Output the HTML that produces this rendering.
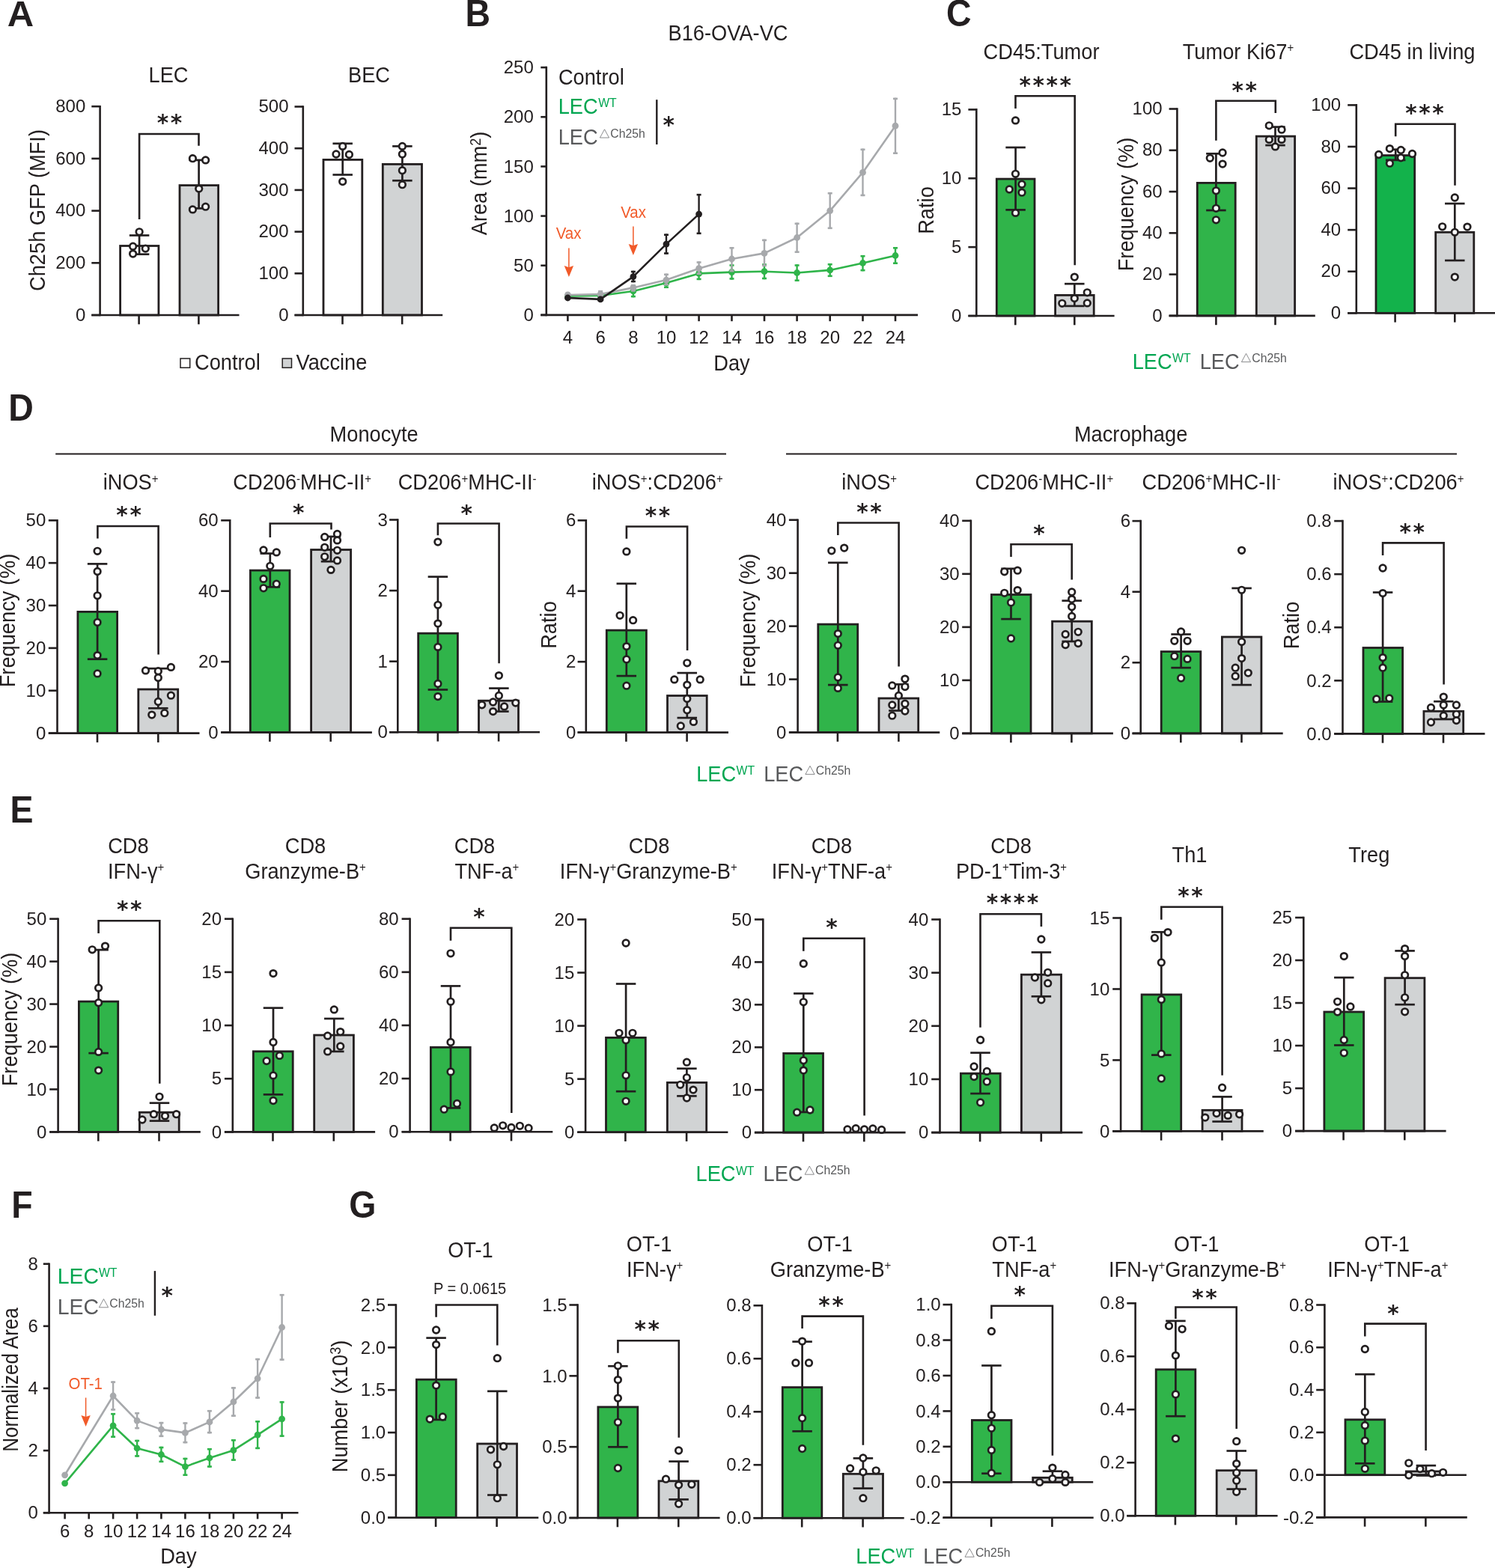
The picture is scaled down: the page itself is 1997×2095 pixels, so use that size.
<!DOCTYPE html>
<html lang="en"><head><meta charset="utf-8"><title>Figure</title>
<style>html,body{margin:0;padding:0;background:#fff}svg{display:block}</style></head>
<body>
<svg width="1997" height="2095" viewBox="0 0 1997 2095" font-family='"Liberation Sans", Arial, Helvetica, sans-serif'>
<text x="9.8" y="35" font-size="49" text-anchor="start" fill="#231f20" font-weight="bold">A</text>
<rect x="160.6" y="328.5" width="51.3" height="92.5" fill="#fff" stroke="#231f20" stroke-width="2.8"/>
<rect x="240" y="247.6" width="51.6" height="173.4" fill="#d1d3d4" stroke="#231f20" stroke-width="2.8"/>
<line x1="133.6" y1="140.9" x2="133.6" y2="422.3" stroke="#231f20" stroke-width="2.6"/>
<line x1="122.3" y1="421" x2="133.6" y2="421" stroke="#231f20" stroke-width="2.6"/>
<text x="114.3" y="428.69" font-size="24" text-anchor="end" fill="#231f20">0</text>
<line x1="122.3" y1="351.3" x2="133.6" y2="351.3" stroke="#231f20" stroke-width="2.6"/>
<text x="114.3" y="358.99" font-size="24" text-anchor="end" fill="#231f20">200</text>
<line x1="122.3" y1="281.6" x2="133.6" y2="281.6" stroke="#231f20" stroke-width="2.6"/>
<text x="114.3" y="289.29" font-size="24" text-anchor="end" fill="#231f20">400</text>
<line x1="122.3" y1="211.9" x2="133.6" y2="211.9" stroke="#231f20" stroke-width="2.6"/>
<text x="114.3" y="219.59" font-size="24" text-anchor="end" fill="#231f20">600</text>
<line x1="122.3" y1="142.2" x2="133.6" y2="142.2" stroke="#231f20" stroke-width="2.6"/>
<text x="114.3" y="149.89" font-size="24" text-anchor="end" fill="#231f20">800</text>
<line x1="122.3" y1="421" x2="319.5" y2="421" stroke="#231f20" stroke-width="2.6"/>
<line x1="185.6" y1="421" x2="185.6" y2="433.3" stroke="#231f20" stroke-width="2.6"/>
<line x1="265.4" y1="421" x2="265.4" y2="433.3" stroke="#231f20" stroke-width="2.6"/>
<line x1="186.1" y1="314.5" x2="186.1" y2="339.7" stroke="#231f20" stroke-width="2.7"/>
<line x1="172.85" y1="314.5" x2="199.35" y2="314.5" stroke="#231f20" stroke-width="2.7"/>
<line x1="172.85" y1="339.7" x2="199.35" y2="339.7" stroke="#231f20" stroke-width="2.7"/>
<line x1="265.6" y1="213.9" x2="265.6" y2="278.4" stroke="#231f20" stroke-width="2.7"/>
<line x1="252.35" y1="213.9" x2="278.85" y2="213.9" stroke="#231f20" stroke-width="2.7"/>
<line x1="252.35" y1="278.4" x2="278.85" y2="278.4" stroke="#231f20" stroke-width="2.7"/>
<circle cx="186.1" cy="309.8" r="4.3" fill="#fff" stroke="#231f20" stroke-width="2.7"/>
<circle cx="177.6" cy="329.2" r="4.3" fill="#fff" stroke="#231f20" stroke-width="2.7"/>
<circle cx="194.3" cy="332.1" r="4.3" fill="#fff" stroke="#231f20" stroke-width="2.7"/>
<circle cx="177.6" cy="339.1" r="4.3" fill="#fff" stroke="#231f20" stroke-width="2.7"/>
<circle cx="257.4" cy="211.7" r="4.3" fill="#fff" stroke="#231f20" stroke-width="2.7"/>
<circle cx="274.6" cy="213.9" r="4.3" fill="#fff" stroke="#231f20" stroke-width="2.7"/>
<circle cx="265.7" cy="252.1" r="4.3" fill="#fff" stroke="#231f20" stroke-width="2.7"/>
<circle cx="257.4" cy="279.9" r="4.3" fill="#fff" stroke="#231f20" stroke-width="2.7"/>
<circle cx="274.6" cy="276.2" r="4.3" fill="#fff" stroke="#231f20" stroke-width="2.7"/>
<path d="M186.1 292.9V179H265.5V194.8" fill="none" stroke="#231f20" stroke-width="2.6" stroke-linejoin="miter"/>
<text x="227.8" y="173.92" font-size="29.5" font-family="'DejaVu Sans', sans-serif" font-weight="bold" text-anchor="middle" letter-spacing="2.6" fill="#231f20">**</text>
<text transform="translate(225 109.7) scale(0.93 1)" font-size="29.3" text-anchor="middle" fill="#231f20">LEC</text>
<text transform="translate(59.5 281) rotate(-90) scale(0.93 1)" font-size="29.3" text-anchor="middle" fill="#231f20">Ch25h GFP (MFI)</text>
<rect x="432" y="213.4" width="51.8" height="207.6" fill="#fff" stroke="#231f20" stroke-width="2.8"/>
<rect x="511.3" y="219.4" width="52.2" height="201.6" fill="#d1d3d4" stroke="#231f20" stroke-width="2.8"/>
<line x1="404.8" y1="141.2" x2="404.8" y2="422.3" stroke="#231f20" stroke-width="2.6"/>
<line x1="393.5" y1="421" x2="404.8" y2="421" stroke="#231f20" stroke-width="2.6"/>
<text x="385.5" y="428.69" font-size="24" text-anchor="end" fill="#231f20">0</text>
<line x1="393.5" y1="365.3" x2="404.8" y2="365.3" stroke="#231f20" stroke-width="2.6"/>
<text x="385.5" y="372.99" font-size="24" text-anchor="end" fill="#231f20">100</text>
<line x1="393.5" y1="309.6" x2="404.8" y2="309.6" stroke="#231f20" stroke-width="2.6"/>
<text x="385.5" y="317.29" font-size="24" text-anchor="end" fill="#231f20">200</text>
<line x1="393.5" y1="253.9" x2="404.8" y2="253.9" stroke="#231f20" stroke-width="2.6"/>
<text x="385.5" y="261.59" font-size="24" text-anchor="end" fill="#231f20">300</text>
<line x1="393.5" y1="198.2" x2="404.8" y2="198.2" stroke="#231f20" stroke-width="2.6"/>
<text x="385.5" y="205.89" font-size="24" text-anchor="end" fill="#231f20">400</text>
<line x1="393.5" y1="142.5" x2="404.8" y2="142.5" stroke="#231f20" stroke-width="2.6"/>
<text x="385.5" y="150.19" font-size="24" text-anchor="end" fill="#231f20">500</text>
<line x1="393.5" y1="421" x2="591.2" y2="421" stroke="#231f20" stroke-width="2.6"/>
<line x1="457.5" y1="421" x2="457.5" y2="433.3" stroke="#231f20" stroke-width="2.6"/>
<line x1="537.2" y1="421" x2="537.2" y2="433.3" stroke="#231f20" stroke-width="2.6"/>
<line x1="457.7" y1="191.8" x2="457.7" y2="233.5" stroke="#231f20" stroke-width="2.7"/>
<line x1="444.45" y1="191.8" x2="470.95" y2="191.8" stroke="#231f20" stroke-width="2.7"/>
<line x1="444.45" y1="233.5" x2="470.95" y2="233.5" stroke="#231f20" stroke-width="2.7"/>
<line x1="537.4" y1="195.4" x2="537.4" y2="241.3" stroke="#231f20" stroke-width="2.7"/>
<line x1="524.15" y1="195.4" x2="550.65" y2="195.4" stroke="#231f20" stroke-width="2.7"/>
<line x1="524.15" y1="241.3" x2="550.65" y2="241.3" stroke="#231f20" stroke-width="2.7"/>
<circle cx="457.7" cy="195.4" r="4.3" fill="#fff" stroke="#231f20" stroke-width="2.7"/>
<circle cx="449" cy="206" r="4.3" fill="#fff" stroke="#231f20" stroke-width="2.7"/>
<circle cx="466.4" cy="206.5" r="4.3" fill="#fff" stroke="#231f20" stroke-width="2.7"/>
<circle cx="457.7" cy="242.6" r="4.3" fill="#fff" stroke="#231f20" stroke-width="2.7"/>
<circle cx="537.4" cy="195.4" r="4.3" fill="#fff" stroke="#231f20" stroke-width="2.7"/>
<circle cx="537.4" cy="206" r="4.3" fill="#fff" stroke="#231f20" stroke-width="2.7"/>
<circle cx="537.4" cy="227.7" r="4.3" fill="#fff" stroke="#231f20" stroke-width="2.7"/>
<circle cx="537.4" cy="246.7" r="4.3" fill="#fff" stroke="#231f20" stroke-width="2.7"/>
<text transform="translate(493 109.7) scale(0.93 1)" font-size="29.3" text-anchor="middle" fill="#231f20">BEC</text>
<rect x="241" y="479" width="12.7" height="12.3" fill="#fff" stroke="#231f20" stroke-width="1.5"/>
<text transform="translate(260 493.5) scale(0.93 1)" font-size="29.3" text-anchor="start" fill="#231f20">Control</text>
<rect x="377.2" y="479" width="12.3" height="12.3" fill="#d1d3d4" stroke="#231f20" stroke-width="1.5"/>
<text transform="translate(395.5 493.5) scale(0.93 1)" font-size="29.3" text-anchor="start" fill="#231f20">Vaccine</text>
<text transform="translate(621.5 35.2) scale(0.93 1)" font-size="50" text-anchor="start" fill="#231f20" font-weight="bold">B</text>
<text transform="translate(972.5 54.4) scale(0.93 1)" font-size="29.3" text-anchor="middle" fill="#231f20">B16-OVA-VC</text>
<line x1="758.4" y1="393" x2="758.4" y2="398" stroke="#2fb44a" stroke-width="2.4"/>
<line x1="755.4" y1="394.2" x2="761.4" y2="394.2" stroke="#2fb44a" stroke-width="2.6"/>
<line x1="755.4" y1="396.8" x2="761.4" y2="396.8" stroke="#2fb44a" stroke-width="2.6"/>
<line x1="802.1" y1="392" x2="802.1" y2="398" stroke="#2fb44a" stroke-width="2.4"/>
<line x1="799.1" y1="393.2" x2="805.1" y2="393.2" stroke="#2fb44a" stroke-width="2.6"/>
<line x1="799.1" y1="396.8" x2="805.1" y2="396.8" stroke="#2fb44a" stroke-width="2.6"/>
<line x1="845.9" y1="382.3" x2="845.9" y2="397.3" stroke="#2fb44a" stroke-width="2.4"/>
<line x1="842.9" y1="383.5" x2="848.9" y2="383.5" stroke="#2fb44a" stroke-width="2.6"/>
<line x1="842.9" y1="396.1" x2="848.9" y2="396.1" stroke="#2fb44a" stroke-width="2.6"/>
<line x1="890" y1="371.4" x2="890" y2="385" stroke="#2fb44a" stroke-width="2.4"/>
<line x1="887" y1="372.6" x2="893" y2="372.6" stroke="#2fb44a" stroke-width="2.6"/>
<line x1="887" y1="383.8" x2="893" y2="383.8" stroke="#2fb44a" stroke-width="2.6"/>
<line x1="933.6" y1="357.8" x2="933.6" y2="374.1" stroke="#2fb44a" stroke-width="2.4"/>
<line x1="930.6" y1="359" x2="936.6" y2="359" stroke="#2fb44a" stroke-width="2.6"/>
<line x1="930.6" y1="372.9" x2="936.6" y2="372.9" stroke="#2fb44a" stroke-width="2.6"/>
<line x1="977.5" y1="353.3" x2="977.5" y2="373.6" stroke="#2fb44a" stroke-width="2.4"/>
<line x1="974.5" y1="354.5" x2="980.5" y2="354.5" stroke="#2fb44a" stroke-width="2.6"/>
<line x1="974.5" y1="372.4" x2="980.5" y2="372.4" stroke="#2fb44a" stroke-width="2.6"/>
<line x1="1021" y1="352.4" x2="1021" y2="373.2" stroke="#2fb44a" stroke-width="2.4"/>
<line x1="1018" y1="353.6" x2="1024" y2="353.6" stroke="#2fb44a" stroke-width="2.6"/>
<line x1="1018" y1="372" x2="1024" y2="372" stroke="#2fb44a" stroke-width="2.6"/>
<line x1="1064.6" y1="353.3" x2="1064.6" y2="375.9" stroke="#2fb44a" stroke-width="2.4"/>
<line x1="1061.6" y1="354.5" x2="1067.6" y2="354.5" stroke="#2fb44a" stroke-width="2.6"/>
<line x1="1061.6" y1="374.7" x2="1067.6" y2="374.7" stroke="#2fb44a" stroke-width="2.6"/>
<line x1="1108.7" y1="352" x2="1108.7" y2="370" stroke="#2fb44a" stroke-width="2.4"/>
<line x1="1105.7" y1="353.2" x2="1111.7" y2="353.2" stroke="#2fb44a" stroke-width="2.6"/>
<line x1="1105.7" y1="368.8" x2="1111.7" y2="368.8" stroke="#2fb44a" stroke-width="2.6"/>
<line x1="1152.5" y1="341" x2="1152.5" y2="362.3" stroke="#2fb44a" stroke-width="2.4"/>
<line x1="1149.5" y1="342.2" x2="1155.5" y2="342.2" stroke="#2fb44a" stroke-width="2.6"/>
<line x1="1149.5" y1="361.1" x2="1155.5" y2="361.1" stroke="#2fb44a" stroke-width="2.6"/>
<line x1="1196" y1="330.1" x2="1196" y2="352.9" stroke="#2fb44a" stroke-width="2.4"/>
<line x1="1193" y1="331.3" x2="1199" y2="331.3" stroke="#2fb44a" stroke-width="2.6"/>
<line x1="1193" y1="351.7" x2="1199" y2="351.7" stroke="#2fb44a" stroke-width="2.6"/>
<path d="M758.4 395.5L802.1 395L845.9 389L890 378.1L933.6 365.4L977.5 363.6L1021 362.7L1064.6 364.5L1108.7 360.9L1152.5 351.5L1196 341.5" fill="none" stroke="#2fb44a" stroke-width="2.6" stroke-linejoin="round"/>
<circle cx="758.4" cy="395.5" r="4.4" fill="#2fb44a"/>
<circle cx="802.1" cy="395" r="4.4" fill="#2fb44a"/>
<circle cx="845.9" cy="389" r="4.4" fill="#2fb44a"/>
<circle cx="890" cy="378.1" r="4.4" fill="#2fb44a"/>
<circle cx="933.6" cy="365.4" r="4.4" fill="#2fb44a"/>
<circle cx="977.5" cy="363.6" r="4.4" fill="#2fb44a"/>
<circle cx="1021" cy="362.7" r="4.4" fill="#2fb44a"/>
<circle cx="1064.6" cy="364.5" r="4.4" fill="#2fb44a"/>
<circle cx="1108.7" cy="360.9" r="4.4" fill="#2fb44a"/>
<circle cx="1152.5" cy="351.5" r="4.4" fill="#2fb44a"/>
<circle cx="1196" cy="341.5" r="4.4" fill="#2fb44a"/>
<line x1="758.4" y1="390.5" x2="758.4" y2="397.5" stroke="#a7a9ac" stroke-width="2.4"/>
<line x1="755.4" y1="391.7" x2="761.4" y2="391.7" stroke="#a7a9ac" stroke-width="2.6"/>
<line x1="755.4" y1="396.3" x2="761.4" y2="396.3" stroke="#a7a9ac" stroke-width="2.6"/>
<line x1="802.1" y1="388" x2="802.1" y2="397.5" stroke="#a7a9ac" stroke-width="2.4"/>
<line x1="799.1" y1="389.2" x2="805.1" y2="389.2" stroke="#a7a9ac" stroke-width="2.6"/>
<line x1="799.1" y1="396.3" x2="805.1" y2="396.3" stroke="#a7a9ac" stroke-width="2.6"/>
<line x1="845.9" y1="380" x2="845.9" y2="389.5" stroke="#a7a9ac" stroke-width="2.4"/>
<line x1="842.9" y1="381.2" x2="848.9" y2="381.2" stroke="#a7a9ac" stroke-width="2.6"/>
<line x1="842.9" y1="388.3" x2="848.9" y2="388.3" stroke="#a7a9ac" stroke-width="2.6"/>
<line x1="890" y1="365.6" x2="890" y2="381.4" stroke="#a7a9ac" stroke-width="2.4"/>
<line x1="887" y1="366.8" x2="893" y2="366.8" stroke="#a7a9ac" stroke-width="2.6"/>
<line x1="887" y1="380.2" x2="893" y2="380.2" stroke="#a7a9ac" stroke-width="2.6"/>
<line x1="933.6" y1="349.3" x2="933.6" y2="366.9" stroke="#a7a9ac" stroke-width="2.4"/>
<line x1="930.6" y1="350.5" x2="936.6" y2="350.5" stroke="#a7a9ac" stroke-width="2.6"/>
<line x1="930.6" y1="365.7" x2="936.6" y2="365.7" stroke="#a7a9ac" stroke-width="2.6"/>
<line x1="977.5" y1="330.1" x2="977.5" y2="363.2" stroke="#a7a9ac" stroke-width="2.4"/>
<line x1="974.5" y1="331.3" x2="980.5" y2="331.3" stroke="#a7a9ac" stroke-width="2.6"/>
<line x1="974.5" y1="362" x2="980.5" y2="362" stroke="#a7a9ac" stroke-width="2.6"/>
<line x1="1021" y1="319.7" x2="1021" y2="356" stroke="#a7a9ac" stroke-width="2.4"/>
<line x1="1018" y1="320.9" x2="1024" y2="320.9" stroke="#a7a9ac" stroke-width="2.6"/>
<line x1="1018" y1="354.8" x2="1024" y2="354.8" stroke="#a7a9ac" stroke-width="2.6"/>
<line x1="1064.6" y1="297.6" x2="1064.6" y2="337.9" stroke="#a7a9ac" stroke-width="2.4"/>
<line x1="1061.6" y1="298.8" x2="1067.6" y2="298.8" stroke="#a7a9ac" stroke-width="2.6"/>
<line x1="1061.6" y1="336.7" x2="1067.6" y2="336.7" stroke="#a7a9ac" stroke-width="2.6"/>
<line x1="1108.7" y1="257" x2="1108.7" y2="306" stroke="#a7a9ac" stroke-width="2.4"/>
<line x1="1105.7" y1="258.2" x2="1111.7" y2="258.2" stroke="#a7a9ac" stroke-width="2.6"/>
<line x1="1105.7" y1="304.8" x2="1111.7" y2="304.8" stroke="#a7a9ac" stroke-width="2.6"/>
<line x1="1152.5" y1="198.6" x2="1152.5" y2="262.1" stroke="#a7a9ac" stroke-width="2.4"/>
<line x1="1149.5" y1="199.8" x2="1155.5" y2="199.8" stroke="#a7a9ac" stroke-width="2.6"/>
<line x1="1149.5" y1="260.9" x2="1155.5" y2="260.9" stroke="#a7a9ac" stroke-width="2.6"/>
<line x1="1196" y1="130.7" x2="1196" y2="205.9" stroke="#a7a9ac" stroke-width="2.4"/>
<line x1="1193" y1="131.9" x2="1199" y2="131.9" stroke="#a7a9ac" stroke-width="2.6"/>
<line x1="1193" y1="204.7" x2="1199" y2="204.7" stroke="#a7a9ac" stroke-width="2.6"/>
<path d="M758.4 394L802.1 393.1L845.9 384.4L890 374.1L933.6 358.7L977.5 346L1021 338.4L1064.6 317.5L1108.7 281.6L1152.5 230.4L1196 168.2" fill="none" stroke="#a7a9ac" stroke-width="2.6" stroke-linejoin="round"/>
<circle cx="758.4" cy="394" r="4.4" fill="#a7a9ac"/>
<circle cx="802.1" cy="393.1" r="4.4" fill="#a7a9ac"/>
<circle cx="845.9" cy="384.4" r="4.4" fill="#a7a9ac"/>
<circle cx="890" cy="374.1" r="4.4" fill="#a7a9ac"/>
<circle cx="933.6" cy="358.7" r="4.4" fill="#a7a9ac"/>
<circle cx="977.5" cy="346" r="4.4" fill="#a7a9ac"/>
<circle cx="1021" cy="338.4" r="4.4" fill="#a7a9ac"/>
<circle cx="1064.6" cy="317.5" r="4.4" fill="#a7a9ac"/>
<circle cx="1108.7" cy="281.6" r="4.4" fill="#a7a9ac"/>
<circle cx="1152.5" cy="230.4" r="4.4" fill="#a7a9ac"/>
<circle cx="1196" cy="168.2" r="4.4" fill="#a7a9ac"/>
<line x1="845.9" y1="361.8" x2="845.9" y2="377.2" stroke="#231f20" stroke-width="2.4"/>
<line x1="842.9" y1="363" x2="848.9" y2="363" stroke="#231f20" stroke-width="2.6"/>
<line x1="842.9" y1="376" x2="848.9" y2="376" stroke="#231f20" stroke-width="2.6"/>
<line x1="890" y1="312.5" x2="890" y2="339.7" stroke="#231f20" stroke-width="2.4"/>
<line x1="887" y1="313.7" x2="893" y2="313.7" stroke="#231f20" stroke-width="2.6"/>
<line x1="887" y1="338.5" x2="893" y2="338.5" stroke="#231f20" stroke-width="2.6"/>
<line x1="933.6" y1="259" x2="933.6" y2="313" stroke="#231f20" stroke-width="2.4"/>
<line x1="930.6" y1="260.2" x2="936.6" y2="260.2" stroke="#231f20" stroke-width="2.6"/>
<line x1="930.6" y1="311.8" x2="936.6" y2="311.8" stroke="#231f20" stroke-width="2.6"/>
<path d="M758.4 398L802.1 399.9L845.9 369.6L890 326.1L933.6 286.1" fill="none" stroke="#231f20" stroke-width="2.6" stroke-linejoin="round"/>
<circle cx="758.4" cy="398" r="4.4" fill="#231f20"/>
<circle cx="802.1" cy="399.9" r="4.4" fill="#231f20"/>
<circle cx="845.9" cy="369.6" r="4.4" fill="#231f20"/>
<circle cx="890" cy="326.1" r="4.4" fill="#231f20"/>
<circle cx="933.6" cy="286.1" r="4.4" fill="#231f20"/>
<line x1="729.8" y1="88.8" x2="729.8" y2="422.2" stroke="#231f20" stroke-width="2.6"/>
<line x1="722.3" y1="420.9" x2="729.8" y2="420.9" stroke="#231f20" stroke-width="2.6"/>
<text x="712.8" y="429.09" font-size="24" text-anchor="end" fill="#231f20">0</text>
<line x1="722.3" y1="354.74" x2="729.8" y2="354.74" stroke="#231f20" stroke-width="2.6"/>
<text x="712.8" y="362.93" font-size="24" text-anchor="end" fill="#231f20">50</text>
<line x1="722.3" y1="288.58" x2="729.8" y2="288.58" stroke="#231f20" stroke-width="2.6"/>
<text x="712.8" y="296.77" font-size="24" text-anchor="end" fill="#231f20">100</text>
<line x1="722.3" y1="222.42" x2="729.8" y2="222.42" stroke="#231f20" stroke-width="2.6"/>
<text x="712.8" y="230.61" font-size="24" text-anchor="end" fill="#231f20">150</text>
<line x1="722.3" y1="156.26" x2="729.8" y2="156.26" stroke="#231f20" stroke-width="2.6"/>
<text x="712.8" y="164.45" font-size="24" text-anchor="end" fill="#231f20">200</text>
<line x1="722.3" y1="90.1" x2="729.8" y2="90.1" stroke="#231f20" stroke-width="2.6"/>
<text x="712.8" y="98.29" font-size="24" text-anchor="end" fill="#231f20">250</text>
<line x1="722.3" y1="420.9" x2="1226" y2="420.9" stroke="#231f20" stroke-width="2.6"/>
<line x1="758.4" y1="420.9" x2="758.4" y2="429.2" stroke="#231f20" stroke-width="2.6"/>
<text x="758.4" y="458.9" font-size="24" text-anchor="middle" fill="#231f20">4</text>
<line x1="802.1" y1="420.9" x2="802.1" y2="429.2" stroke="#231f20" stroke-width="2.6"/>
<text x="802.1" y="458.9" font-size="24" text-anchor="middle" fill="#231f20">6</text>
<line x1="845.9" y1="420.9" x2="845.9" y2="429.2" stroke="#231f20" stroke-width="2.6"/>
<text x="845.9" y="458.9" font-size="24" text-anchor="middle" fill="#231f20">8</text>
<line x1="890" y1="420.9" x2="890" y2="429.2" stroke="#231f20" stroke-width="2.6"/>
<text x="890" y="458.9" font-size="24" text-anchor="middle" fill="#231f20">10</text>
<line x1="933.6" y1="420.9" x2="933.6" y2="429.2" stroke="#231f20" stroke-width="2.6"/>
<text x="933.6" y="458.9" font-size="24" text-anchor="middle" fill="#231f20">12</text>
<line x1="977.5" y1="420.9" x2="977.5" y2="429.2" stroke="#231f20" stroke-width="2.6"/>
<text x="977.5" y="458.9" font-size="24" text-anchor="middle" fill="#231f20">14</text>
<line x1="1021" y1="420.9" x2="1021" y2="429.2" stroke="#231f20" stroke-width="2.6"/>
<text x="1021" y="458.9" font-size="24" text-anchor="middle" fill="#231f20">16</text>
<line x1="1064.6" y1="420.9" x2="1064.6" y2="429.2" stroke="#231f20" stroke-width="2.6"/>
<text x="1064.6" y="458.9" font-size="24" text-anchor="middle" fill="#231f20">18</text>
<line x1="1108.7" y1="420.9" x2="1108.7" y2="429.2" stroke="#231f20" stroke-width="2.6"/>
<text x="1108.7" y="458.9" font-size="24" text-anchor="middle" fill="#231f20">20</text>
<line x1="1152.5" y1="420.9" x2="1152.5" y2="429.2" stroke="#231f20" stroke-width="2.6"/>
<text x="1152.5" y="458.9" font-size="24" text-anchor="middle" fill="#231f20">22</text>
<line x1="1196" y1="420.9" x2="1196" y2="429.2" stroke="#231f20" stroke-width="2.6"/>
<text x="1196" y="458.9" font-size="24" text-anchor="middle" fill="#231f20">24</text>
<text transform="translate(977.5 494.6) scale(0.93 1)" font-size="29.3" text-anchor="middle" fill="#231f20">Day</text>
<text transform="translate(650.4 245) rotate(-90) scale(0.93 1)" font-size="29.3" text-anchor="middle" fill="#231f20">Area (mm<tspan dy="-8.6" font-size="19.5">2</tspan><tspan dy="8.6">)</tspan></text>
<text transform="translate(745.9 112.7) scale(0.93 1)" font-size="29.3" text-anchor="start" fill="#231f20">Control</text>
<text transform="translate(745.7 151.9) scale(0.93 1)" font-size="29.3" text-anchor="start" fill="#00a651">LEC</text>
<text transform="translate(799.2 143.3) scale(0.93 1)" font-size="17" text-anchor="start" fill="#00a651">WT</text>
<text transform="translate(745.7 193) scale(0.93 1)" font-size="29.3" text-anchor="start" fill="#58595b">LEC</text>
<path d="M801.4 184L807.5 172.8L813.6 184Z" fill="none" stroke="#6d6e71" stroke-width="0.8" stroke-linejoin="miter"/>
<text transform="translate(815.3 184.2) scale(0.93 1)" font-size="17" text-anchor="start" fill="#58595b">Ch25h</text>
<line x1="877.3" y1="133.2" x2="877.3" y2="193" stroke="#231f20" stroke-width="2.4"/>
<text x="894.4" y="176.62" font-size="29.5" font-family="'DejaVu Sans', sans-serif" font-weight="bold" text-anchor="middle" letter-spacing="2.6" fill="#231f20">*</text>
<text transform="translate(759.5 318.8) scale(0.93 1)" font-size="22" text-anchor="middle" fill="#f15a29">Vax</text>
<line x1="759.9" y1="331.5" x2="759.9" y2="359.1" stroke="#f15a29" stroke-width="1.5"/>
<path d="M753.7 355.1L759.9 357.3L766.1 355.1L759.9 370.1Z" fill="#f15a29"/>
<text transform="translate(846 290.7) scale(0.93 1)" font-size="22" text-anchor="middle" fill="#f15a29">Vax</text>
<line x1="845.9" y1="302.5" x2="845.9" y2="330" stroke="#f15a29" stroke-width="1.5"/>
<path d="M839.7 326L845.9 328.2L852.1 326L845.9 341Z" fill="#f15a29"/>
<text transform="translate(1263.9 35) scale(0.93 1)" font-size="50" text-anchor="start" fill="#231f20" font-weight="bold">C</text>
<rect x="1331.3" y="239.1" width="50.7" height="182.9" fill="#30b44a" stroke="#231f20" stroke-width="2.8"/>
<rect x="1409.6" y="394.4" width="51.6" height="27.6" fill="#d1d3d4" stroke="#231f20" stroke-width="2.8"/>
<line x1="1304.3" y1="145.1" x2="1304.3" y2="423.3" stroke="#231f20" stroke-width="2.6"/>
<line x1="1293.4" y1="422" x2="1304.3" y2="422" stroke="#231f20" stroke-width="2.6"/>
<text x="1284.4" y="429.69" font-size="24" text-anchor="end" fill="#231f20">0</text>
<line x1="1293.4" y1="330.13" x2="1304.3" y2="330.13" stroke="#231f20" stroke-width="2.6"/>
<text x="1284.4" y="337.83" font-size="24" text-anchor="end" fill="#231f20">5</text>
<line x1="1293.4" y1="238.27" x2="1304.3" y2="238.27" stroke="#231f20" stroke-width="2.6"/>
<text x="1284.4" y="245.96" font-size="24" text-anchor="end" fill="#231f20">10</text>
<line x1="1293.4" y1="146.4" x2="1304.3" y2="146.4" stroke="#231f20" stroke-width="2.6"/>
<text x="1284.4" y="154.09" font-size="24" text-anchor="end" fill="#231f20">15</text>
<line x1="1293.4" y1="422" x2="1488.6" y2="422" stroke="#231f20" stroke-width="2.6"/>
<line x1="1356.3" y1="422" x2="1356.3" y2="434.3" stroke="#231f20" stroke-width="2.6"/>
<line x1="1435.3" y1="422" x2="1435.3" y2="434.3" stroke="#231f20" stroke-width="2.6"/>
<line x1="1356.6" y1="197" x2="1356.6" y2="280.4" stroke="#231f20" stroke-width="2.7"/>
<line x1="1343.35" y1="197" x2="1369.85" y2="197" stroke="#231f20" stroke-width="2.7"/>
<line x1="1343.35" y1="280.4" x2="1369.85" y2="280.4" stroke="#231f20" stroke-width="2.7"/>
<line x1="1435.3" y1="379.2" x2="1435.3" y2="408.9" stroke="#231f20" stroke-width="2.7"/>
<line x1="1422.05" y1="379.2" x2="1448.55" y2="379.2" stroke="#231f20" stroke-width="2.7"/>
<line x1="1422.05" y1="408.9" x2="1448.55" y2="408.9" stroke="#231f20" stroke-width="2.7"/>
<circle cx="1356.5" cy="160.9" r="4.3" fill="#fff" stroke="#231f20" stroke-width="2.7"/>
<circle cx="1356.5" cy="232.3" r="4.3" fill="#fff" stroke="#231f20" stroke-width="2.7"/>
<circle cx="1365" cy="246.2" r="4.3" fill="#fff" stroke="#231f20" stroke-width="2.7"/>
<circle cx="1348.3" cy="253" r="4.3" fill="#fff" stroke="#231f20" stroke-width="2.7"/>
<circle cx="1365" cy="257.2" r="4.3" fill="#fff" stroke="#231f20" stroke-width="2.7"/>
<circle cx="1356.5" cy="284.4" r="4.3" fill="#fff" stroke="#231f20" stroke-width="2.7"/>
<circle cx="1435.3" cy="370.1" r="4.3" fill="#fff" stroke="#231f20" stroke-width="2.7"/>
<circle cx="1452.3" cy="390.8" r="4.3" fill="#fff" stroke="#231f20" stroke-width="2.7"/>
<circle cx="1435.3" cy="398.6" r="4.3" fill="#fff" stroke="#231f20" stroke-width="2.7"/>
<circle cx="1418.8" cy="405.3" r="4.3" fill="#fff" stroke="#231f20" stroke-width="2.7"/>
<circle cx="1452.3" cy="404.9" r="4.3" fill="#fff" stroke="#231f20" stroke-width="2.7"/>
<path d="M1356.5 145V128.3H1435.7V354.2" fill="none" stroke="#231f20" stroke-width="2.6" stroke-linejoin="miter"/>
<text x="1397.5" y="124.02" font-size="29.5" font-family="'DejaVu Sans', sans-serif" font-weight="bold" text-anchor="middle" letter-spacing="2.6" fill="#231f20">****</text>
<text transform="translate(1391 78.8) scale(0.93 1)" font-size="29.3" text-anchor="middle" fill="#231f20">CD45:Tumor</text>
<text transform="translate(1247.2 281) rotate(-90) scale(0.93 1)" font-size="29.3" text-anchor="middle" fill="#231f20">Ratio</text>
<rect x="1599.3" y="244.4" width="50.9" height="177.5" fill="#30b44a" stroke="#231f20" stroke-width="2.8"/>
<rect x="1678.3" y="182.1" width="51.3" height="239.8" fill="#d1d3d4" stroke="#231f20" stroke-width="2.8"/>
<line x1="1572.4" y1="144.2" x2="1572.4" y2="423.2" stroke="#231f20" stroke-width="2.6"/>
<line x1="1561.6" y1="421.9" x2="1572.4" y2="421.9" stroke="#231f20" stroke-width="2.6"/>
<text x="1552.6" y="429.59" font-size="24" text-anchor="end" fill="#231f20">0</text>
<line x1="1561.6" y1="366.62" x2="1572.4" y2="366.62" stroke="#231f20" stroke-width="2.6"/>
<text x="1552.6" y="374.31" font-size="24" text-anchor="end" fill="#231f20">20</text>
<line x1="1561.6" y1="311.34" x2="1572.4" y2="311.34" stroke="#231f20" stroke-width="2.6"/>
<text x="1552.6" y="319.03" font-size="24" text-anchor="end" fill="#231f20">40</text>
<line x1="1561.6" y1="256.06" x2="1572.4" y2="256.06" stroke="#231f20" stroke-width="2.6"/>
<text x="1552.6" y="263.75" font-size="24" text-anchor="end" fill="#231f20">60</text>
<line x1="1561.6" y1="200.78" x2="1572.4" y2="200.78" stroke="#231f20" stroke-width="2.6"/>
<text x="1552.6" y="208.47" font-size="24" text-anchor="end" fill="#231f20">80</text>
<line x1="1561.6" y1="145.5" x2="1572.4" y2="145.5" stroke="#231f20" stroke-width="2.6"/>
<text x="1552.6" y="153.19" font-size="24" text-anchor="end" fill="#231f20">100</text>
<line x1="1561.6" y1="421.9" x2="1756.8" y2="421.9" stroke="#231f20" stroke-width="2.6"/>
<line x1="1624.4" y1="421.9" x2="1624.4" y2="434.2" stroke="#231f20" stroke-width="2.6"/>
<line x1="1703.5" y1="421.9" x2="1703.5" y2="434.2" stroke="#231f20" stroke-width="2.6"/>
<line x1="1624.4" y1="205.3" x2="1624.4" y2="281" stroke="#231f20" stroke-width="2.7"/>
<line x1="1611.15" y1="205.3" x2="1637.65" y2="205.3" stroke="#231f20" stroke-width="2.7"/>
<line x1="1611.15" y1="281" x2="1637.65" y2="281" stroke="#231f20" stroke-width="2.7"/>
<line x1="1703.5" y1="169.6" x2="1703.5" y2="194.1" stroke="#231f20" stroke-width="2.7"/>
<line x1="1690.25" y1="169.6" x2="1716.75" y2="169.6" stroke="#231f20" stroke-width="2.7"/>
<line x1="1690.25" y1="194.1" x2="1716.75" y2="194.1" stroke="#231f20" stroke-width="2.7"/>
<circle cx="1633.1" cy="204" r="4.3" fill="#fff" stroke="#231f20" stroke-width="2.7"/>
<circle cx="1616.3" cy="211.3" r="4.3" fill="#fff" stroke="#231f20" stroke-width="2.7"/>
<circle cx="1633.1" cy="219.1" r="4.3" fill="#fff" stroke="#231f20" stroke-width="2.7"/>
<circle cx="1624.4" cy="254.8" r="4.3" fill="#fff" stroke="#231f20" stroke-width="2.7"/>
<circle cx="1624.4" cy="278.3" r="4.3" fill="#fff" stroke="#231f20" stroke-width="2.7"/>
<circle cx="1624.4" cy="293.8" r="4.3" fill="#fff" stroke="#231f20" stroke-width="2.7"/>
<circle cx="1695.3" cy="167.8" r="4.3" fill="#fff" stroke="#231f20" stroke-width="2.7"/>
<circle cx="1712" cy="173.2" r="4.3" fill="#fff" stroke="#231f20" stroke-width="2.7"/>
<circle cx="1695.3" cy="186.4" r="4.3" fill="#fff" stroke="#231f20" stroke-width="2.7"/>
<circle cx="1712" cy="186.4" r="4.3" fill="#fff" stroke="#231f20" stroke-width="2.7"/>
<circle cx="1703.5" cy="195.9" r="4.3" fill="#fff" stroke="#231f20" stroke-width="2.7"/>
<path d="M1624.4 187.7V134.8H1703.8V150.9" fill="none" stroke="#231f20" stroke-width="2.6" stroke-linejoin="miter"/>
<text x="1663.5" y="131.42" font-size="29.5" font-family="'DejaVu Sans', sans-serif" font-weight="bold" text-anchor="middle" letter-spacing="2.6" fill="#231f20">**</text>
<text transform="translate(1654 78.6) scale(0.93 1)" font-size="29.3" text-anchor="middle" fill="#231f20">Tumor Ki67<tspan dy="-9.67" font-size="16.12">+</tspan></text>
<text transform="translate(1513.5 273) rotate(-90) scale(0.93 1)" font-size="29.3" text-anchor="middle" fill="#231f20">Frequency (%)</text>
<rect x="1838" y="207.6" width="51.7" height="210.7" fill="#13b24b" stroke="#231f20" stroke-width="2.8"/>
<rect x="1917.7" y="310.3" width="51.1" height="108" fill="#d1d3d4" stroke="#231f20" stroke-width="2.8"/>
<line x1="1811.8" y1="139.1" x2="1811.8" y2="419.6" stroke="#231f20" stroke-width="2.6"/>
<line x1="1800.2" y1="418.3" x2="1811.8" y2="418.3" stroke="#231f20" stroke-width="2.6"/>
<text x="1791.2" y="425.99" font-size="24" text-anchor="end" fill="#231f20">0</text>
<line x1="1800.2" y1="362.72" x2="1811.8" y2="362.72" stroke="#231f20" stroke-width="2.6"/>
<text x="1791.2" y="370.41" font-size="24" text-anchor="end" fill="#231f20">20</text>
<line x1="1800.2" y1="307.14" x2="1811.8" y2="307.14" stroke="#231f20" stroke-width="2.6"/>
<text x="1791.2" y="314.83" font-size="24" text-anchor="end" fill="#231f20">40</text>
<line x1="1800.2" y1="251.56" x2="1811.8" y2="251.56" stroke="#231f20" stroke-width="2.6"/>
<text x="1791.2" y="259.25" font-size="24" text-anchor="end" fill="#231f20">60</text>
<line x1="1800.2" y1="195.98" x2="1811.8" y2="195.98" stroke="#231f20" stroke-width="2.6"/>
<text x="1791.2" y="203.67" font-size="24" text-anchor="end" fill="#231f20">80</text>
<line x1="1800.2" y1="140.4" x2="1811.8" y2="140.4" stroke="#231f20" stroke-width="2.6"/>
<text x="1791.2" y="148.09" font-size="24" text-anchor="end" fill="#231f20">100</text>
<line x1="1800.2" y1="418.3" x2="1997" y2="418.3" stroke="#231f20" stroke-width="2.6"/>
<line x1="1863.6" y1="418.3" x2="1863.6" y2="430.6" stroke="#231f20" stroke-width="2.6"/>
<line x1="1943.3" y1="418.3" x2="1943.3" y2="430.6" stroke="#231f20" stroke-width="2.6"/>
<line x1="1864.2" y1="199.7" x2="1864.2" y2="213.9" stroke="#231f20" stroke-width="2.7"/>
<line x1="1850.95" y1="199.7" x2="1877.45" y2="199.7" stroke="#231f20" stroke-width="2.7"/>
<line x1="1850.95" y1="213.9" x2="1877.45" y2="213.9" stroke="#231f20" stroke-width="2.7"/>
<line x1="1943.3" y1="272" x2="1943.3" y2="348" stroke="#231f20" stroke-width="2.7"/>
<line x1="1930.05" y1="272" x2="1956.55" y2="272" stroke="#231f20" stroke-width="2.7"/>
<line x1="1930.05" y1="348" x2="1956.55" y2="348" stroke="#231f20" stroke-width="2.7"/>
<circle cx="1841.7" cy="206.5" r="4.3" fill="#fff" stroke="#231f20" stroke-width="2.7"/>
<circle cx="1856.4" cy="198.6" r="4.3" fill="#fff" stroke="#231f20" stroke-width="2.7"/>
<circle cx="1871.3" cy="200.5" r="4.3" fill="#fff" stroke="#231f20" stroke-width="2.7"/>
<circle cx="1886.5" cy="205.5" r="4.3" fill="#fff" stroke="#231f20" stroke-width="2.7"/>
<circle cx="1871.3" cy="210.8" r="4.3" fill="#fff" stroke="#231f20" stroke-width="2.7"/>
<circle cx="1856.4" cy="218.2" r="4.3" fill="#fff" stroke="#231f20" stroke-width="2.7"/>
<circle cx="1943.3" cy="264" r="4.3" fill="#fff" stroke="#231f20" stroke-width="2.7"/>
<circle cx="1926.7" cy="302.8" r="4.3" fill="#fff" stroke="#231f20" stroke-width="2.7"/>
<circle cx="1960" cy="303.1" r="4.3" fill="#fff" stroke="#231f20" stroke-width="2.7"/>
<circle cx="1943.3" cy="310.3" r="4.3" fill="#fff" stroke="#231f20" stroke-width="2.7"/>
<circle cx="1943.3" cy="370.1" r="4.3" fill="#fff" stroke="#231f20" stroke-width="2.7"/>
<path d="M1864.2 182.3V165.7H1943.5V247.7" fill="none" stroke="#231f20" stroke-width="2.6" stroke-linejoin="miter"/>
<text x="1904.3" y="161.12" font-size="29.5" font-family="'DejaVu Sans', sans-serif" font-weight="bold" text-anchor="middle" letter-spacing="2.6" fill="#231f20">***</text>
<text transform="translate(1886.4 78.9) scale(0.93 1)" font-size="29.3" text-anchor="middle" fill="#231f20">CD45 in living</text>
<text transform="translate(1512.7 492.6) scale(0.93 1)" font-size="29.3" text-anchor="start" fill="#00a651">LEC</text>
<text transform="translate(1566.1 484) scale(0.93 1)" font-size="17" text-anchor="start" fill="#00a651">WT</text>
<text transform="translate(1602.7 492.6) scale(0.93 1)" font-size="29.3" text-anchor="start" fill="#58595b">LEC</text>
<path d="M1658.4 483.6L1664.5 472.4L1670.6 483.6Z" fill="none" stroke="#6d6e71" stroke-width="0.8" stroke-linejoin="miter"/>
<text transform="translate(1672.3 483.8) scale(0.93 1)" font-size="17" text-anchor="start" fill="#58595b">Ch25h</text>
<text transform="translate(11.3 561.9) scale(0.93 1)" font-size="50" text-anchor="start" fill="#231f20" font-weight="bold">D</text>
<text transform="translate(499.6 590) scale(0.93 1)" font-size="29.3" text-anchor="middle" fill="#231f20">Monocyte</text>
<text transform="translate(1510.6 590) scale(0.93 1)" font-size="29.3" text-anchor="middle" fill="#231f20">Macrophage</text>
<line x1="74.2" y1="606.5" x2="970" y2="606.5" stroke="#231f20" stroke-width="2"/>
<line x1="1050" y1="606.5" x2="1946" y2="606.5" stroke="#231f20" stroke-width="2"/>
<rect x="103.9" y="817.4" width="52.7" height="162.2" fill="#30b44a" stroke="#231f20" stroke-width="2.8"/>
<rect x="184.8" y="921" width="52.9" height="58.6" fill="#d1d3d4" stroke="#231f20" stroke-width="2.8"/>
<line x1="76.5" y1="694" x2="76.5" y2="980.9" stroke="#231f20" stroke-width="2.6"/>
<line x1="64.8" y1="979.6" x2="76.5" y2="979.6" stroke="#231f20" stroke-width="2.6"/>
<text x="61.3" y="987.79" font-size="24" text-anchor="end" fill="#231f20">0</text>
<line x1="64.8" y1="922.74" x2="76.5" y2="922.74" stroke="#231f20" stroke-width="2.6"/>
<text x="61.3" y="930.93" font-size="24" text-anchor="end" fill="#231f20">10</text>
<line x1="64.8" y1="865.88" x2="76.5" y2="865.88" stroke="#231f20" stroke-width="2.6"/>
<text x="61.3" y="874.07" font-size="24" text-anchor="end" fill="#231f20">20</text>
<line x1="64.8" y1="809.02" x2="76.5" y2="809.02" stroke="#231f20" stroke-width="2.6"/>
<text x="61.3" y="817.21" font-size="24" text-anchor="end" fill="#231f20">30</text>
<line x1="64.8" y1="752.16" x2="76.5" y2="752.16" stroke="#231f20" stroke-width="2.6"/>
<text x="61.3" y="760.35" font-size="24" text-anchor="end" fill="#231f20">40</text>
<line x1="64.8" y1="695.3" x2="76.5" y2="695.3" stroke="#231f20" stroke-width="2.6"/>
<text x="61.3" y="703.49" font-size="24" text-anchor="end" fill="#231f20">50</text>
<line x1="64.8" y1="979.6" x2="266.5" y2="979.6" stroke="#231f20" stroke-width="2.6"/>
<line x1="130" y1="979.6" x2="130" y2="991.9" stroke="#231f20" stroke-width="2.6"/>
<line x1="211.3" y1="979.6" x2="211.3" y2="991.9" stroke="#231f20" stroke-width="2.6"/>
<line x1="130.1" y1="753.4" x2="130.1" y2="880.7" stroke="#231f20" stroke-width="2.7"/>
<line x1="116.85" y1="753.4" x2="143.35" y2="753.4" stroke="#231f20" stroke-width="2.7"/>
<line x1="116.85" y1="880.7" x2="143.35" y2="880.7" stroke="#231f20" stroke-width="2.7"/>
<line x1="211.3" y1="893.2" x2="211.3" y2="946.3" stroke="#231f20" stroke-width="2.7"/>
<line x1="198.05" y1="893.2" x2="224.55" y2="893.2" stroke="#231f20" stroke-width="2.7"/>
<line x1="198.05" y1="946.3" x2="224.55" y2="946.3" stroke="#231f20" stroke-width="2.7"/>
<circle cx="130.1" cy="736.3" r="4.3" fill="#fff" stroke="#231f20" stroke-width="2.7"/>
<circle cx="130.1" cy="763.5" r="4.3" fill="#fff" stroke="#231f20" stroke-width="2.7"/>
<circle cx="130.1" cy="795.8" r="4.3" fill="#fff" stroke="#231f20" stroke-width="2.7"/>
<circle cx="130.1" cy="831.5" r="4.3" fill="#fff" stroke="#231f20" stroke-width="2.7"/>
<circle cx="130.1" cy="875.6" r="4.3" fill="#fff" stroke="#231f20" stroke-width="2.7"/>
<circle cx="130.1" cy="899.9" r="4.3" fill="#fff" stroke="#231f20" stroke-width="2.7"/>
<circle cx="194.5" cy="895.9" r="4.3" fill="#fff" stroke="#231f20" stroke-width="2.7"/>
<circle cx="228.4" cy="891.4" r="4.3" fill="#fff" stroke="#231f20" stroke-width="2.7"/>
<circle cx="211.3" cy="896.7" r="4.3" fill="#fff" stroke="#231f20" stroke-width="2.7"/>
<circle cx="211.3" cy="905.5" r="4.3" fill="#fff" stroke="#231f20" stroke-width="2.7"/>
<circle cx="228.4" cy="929.2" r="4.3" fill="#fff" stroke="#231f20" stroke-width="2.7"/>
<circle cx="211.3" cy="937.5" r="4.3" fill="#fff" stroke="#231f20" stroke-width="2.7"/>
<circle cx="202.8" cy="955.1" r="4.3" fill="#fff" stroke="#231f20" stroke-width="2.7"/>
<circle cx="219.8" cy="952.7" r="4.3" fill="#fff" stroke="#231f20" stroke-width="2.7"/>
<path d="M130.4 719.5V703H211.6V874.6" fill="none" stroke="#231f20" stroke-width="2.6" stroke-linejoin="miter"/>
<text x="173.4" y="698.22" font-size="29.5" font-family="'DejaVu Sans', sans-serif" font-weight="bold" text-anchor="middle" letter-spacing="2.6" fill="#231f20">**</text>
<text transform="translate(174.6 654.3) scale(0.93 1)" font-size="29.3" text-anchor="middle" fill="#231f20">iNOS<tspan dy="-9.67" font-size="16.12">+</tspan></text>
<text transform="translate(20 829) rotate(-90) scale(0.93 1)" font-size="29.3" text-anchor="middle" fill="#231f20">Frequency (%)</text>
<rect x="334.4" y="762.1" width="52.6" height="216.5" fill="#30b44a" stroke="#231f20" stroke-width="2.8"/>
<rect x="415.6" y="734.5" width="53" height="244.1" fill="#d1d3d4" stroke="#231f20" stroke-width="2.8"/>
<line x1="307.2" y1="694" x2="307.2" y2="979.9" stroke="#231f20" stroke-width="2.6"/>
<line x1="295.2" y1="978.6" x2="307.2" y2="978.6" stroke="#231f20" stroke-width="2.6"/>
<text x="291.7" y="986.79" font-size="24" text-anchor="end" fill="#231f20">0</text>
<line x1="295.2" y1="884.17" x2="307.2" y2="884.17" stroke="#231f20" stroke-width="2.6"/>
<text x="291.7" y="892.36" font-size="24" text-anchor="end" fill="#231f20">20</text>
<line x1="295.2" y1="789.73" x2="307.2" y2="789.73" stroke="#231f20" stroke-width="2.6"/>
<text x="291.7" y="797.93" font-size="24" text-anchor="end" fill="#231f20">40</text>
<line x1="295.2" y1="695.3" x2="307.2" y2="695.3" stroke="#231f20" stroke-width="2.6"/>
<text x="291.7" y="703.49" font-size="24" text-anchor="end" fill="#231f20">60</text>
<line x1="295.2" y1="978.6" x2="496.9" y2="978.6" stroke="#231f20" stroke-width="2.6"/>
<line x1="360.4" y1="978.6" x2="360.4" y2="990.9" stroke="#231f20" stroke-width="2.6"/>
<line x1="441.7" y1="978.6" x2="441.7" y2="990.9" stroke="#231f20" stroke-width="2.6"/>
<line x1="360.8" y1="739.5" x2="360.8" y2="784.3" stroke="#231f20" stroke-width="2.7"/>
<line x1="347.55" y1="739.5" x2="374.05" y2="739.5" stroke="#231f20" stroke-width="2.7"/>
<line x1="347.55" y1="784.3" x2="374.05" y2="784.3" stroke="#231f20" stroke-width="2.7"/>
<line x1="442" y1="716.9" x2="442" y2="750.2" stroke="#231f20" stroke-width="2.7"/>
<line x1="428.75" y1="716.9" x2="455.25" y2="716.9" stroke="#231f20" stroke-width="2.7"/>
<line x1="428.75" y1="750.2" x2="455.25" y2="750.2" stroke="#231f20" stroke-width="2.7"/>
<circle cx="352" cy="735" r="4.3" fill="#fff" stroke="#231f20" stroke-width="2.7"/>
<circle cx="369.3" cy="737.9" r="4.3" fill="#fff" stroke="#231f20" stroke-width="2.7"/>
<circle cx="360.8" cy="756.3" r="4.3" fill="#fff" stroke="#231f20" stroke-width="2.7"/>
<circle cx="352" cy="773.4" r="4.3" fill="#fff" stroke="#231f20" stroke-width="2.7"/>
<circle cx="369.3" cy="780.2" r="4.3" fill="#fff" stroke="#231f20" stroke-width="2.7"/>
<circle cx="352" cy="785.8" r="4.3" fill="#fff" stroke="#231f20" stroke-width="2.7"/>
<circle cx="450.5" cy="713.4" r="4.3" fill="#fff" stroke="#231f20" stroke-width="2.7"/>
<circle cx="433.7" cy="717.4" r="4.3" fill="#fff" stroke="#231f20" stroke-width="2.7"/>
<circle cx="450.5" cy="721.9" r="4.3" fill="#fff" stroke="#231f20" stroke-width="2.7"/>
<circle cx="433.7" cy="731.3" r="4.3" fill="#fff" stroke="#231f20" stroke-width="2.7"/>
<circle cx="450.5" cy="735.3" r="4.3" fill="#fff" stroke="#231f20" stroke-width="2.7"/>
<circle cx="433.7" cy="743.8" r="4.3" fill="#fff" stroke="#231f20" stroke-width="2.7"/>
<circle cx="450.5" cy="748.9" r="4.3" fill="#fff" stroke="#231f20" stroke-width="2.7"/>
<circle cx="442" cy="761.4" r="4.3" fill="#fff" stroke="#231f20" stroke-width="2.7"/>
<path d="M360.8 717.9V699.5H442.5V707.5" fill="none" stroke="#231f20" stroke-width="2.6" stroke-linejoin="miter"/>
<text x="400.1" y="695.02" font-size="29.5" font-family="'DejaVu Sans', sans-serif" font-weight="bold" text-anchor="middle" letter-spacing="2.6" fill="#231f20">*</text>
<text transform="translate(403.7 654.3) scale(0.93 1)" font-size="29.3" text-anchor="middle" fill="#231f20">CD206<tspan dy="-9.67" font-size="16.12">-</tspan><tspan dy="9.67">MHC-II</tspan><tspan dy="-9.67" font-size="16.12">+</tspan></text>
<rect x="558.7" y="846.2" width="52.7" height="132.1" fill="#30b44a" stroke="#231f20" stroke-width="2.8"/>
<rect x="639.5" y="936.2" width="53" height="42.1" fill="#d1d3d4" stroke="#231f20" stroke-width="2.8"/>
<line x1="531.3" y1="693.2" x2="531.3" y2="979.6" stroke="#231f20" stroke-width="2.6"/>
<line x1="520.1" y1="978.3" x2="531.3" y2="978.3" stroke="#231f20" stroke-width="2.6"/>
<text x="517.8" y="986.49" font-size="24" text-anchor="end" fill="#231f20">0</text>
<line x1="520.1" y1="883.7" x2="531.3" y2="883.7" stroke="#231f20" stroke-width="2.6"/>
<text x="517.8" y="891.89" font-size="24" text-anchor="end" fill="#231f20">1</text>
<line x1="520.1" y1="789.1" x2="531.3" y2="789.1" stroke="#231f20" stroke-width="2.6"/>
<text x="517.8" y="797.29" font-size="24" text-anchor="end" fill="#231f20">2</text>
<line x1="520.1" y1="694.5" x2="531.3" y2="694.5" stroke="#231f20" stroke-width="2.6"/>
<text x="517.8" y="702.69" font-size="24" text-anchor="end" fill="#231f20">3</text>
<line x1="520.1" y1="978.3" x2="721" y2="978.3" stroke="#231f20" stroke-width="2.6"/>
<line x1="584.8" y1="978.3" x2="584.8" y2="990.6" stroke="#231f20" stroke-width="2.6"/>
<line x1="666.1" y1="978.3" x2="666.1" y2="990.6" stroke="#231f20" stroke-width="2.6"/>
<line x1="584.9" y1="770.6" x2="584.9" y2="921.5" stroke="#231f20" stroke-width="2.7"/>
<line x1="571.65" y1="770.6" x2="598.15" y2="770.6" stroke="#231f20" stroke-width="2.7"/>
<line x1="571.65" y1="921.5" x2="598.15" y2="921.5" stroke="#231f20" stroke-width="2.7"/>
<line x1="666.4" y1="919.6" x2="666.4" y2="950.6" stroke="#231f20" stroke-width="2.7"/>
<line x1="653.15" y1="919.6" x2="679.65" y2="919.6" stroke="#231f20" stroke-width="2.7"/>
<line x1="653.15" y1="950.6" x2="679.65" y2="950.6" stroke="#231f20" stroke-width="2.7"/>
<circle cx="584.9" cy="724.1" r="4.3" fill="#fff" stroke="#231f20" stroke-width="2.7"/>
<circle cx="584.9" cy="808.3" r="4.3" fill="#fff" stroke="#231f20" stroke-width="2.7"/>
<circle cx="584.9" cy="833.1" r="4.3" fill="#fff" stroke="#231f20" stroke-width="2.7"/>
<circle cx="584.9" cy="864.4" r="4.3" fill="#fff" stroke="#231f20" stroke-width="2.7"/>
<circle cx="584.9" cy="913.5" r="4.3" fill="#fff" stroke="#231f20" stroke-width="2.7"/>
<circle cx="584.9" cy="930.6" r="4.3" fill="#fff" stroke="#231f20" stroke-width="2.7"/>
<circle cx="666.4" cy="902.6" r="4.3" fill="#fff" stroke="#231f20" stroke-width="2.7"/>
<circle cx="666.4" cy="929.5" r="4.3" fill="#fff" stroke="#231f20" stroke-width="2.7"/>
<circle cx="658.6" cy="938" r="4.3" fill="#fff" stroke="#231f20" stroke-width="2.7"/>
<circle cx="688.8" cy="939.1" r="4.3" fill="#fff" stroke="#231f20" stroke-width="2.7"/>
<circle cx="643.7" cy="941.8" r="4.3" fill="#fff" stroke="#231f20" stroke-width="2.7"/>
<circle cx="673.6" cy="943.9" r="4.3" fill="#fff" stroke="#231f20" stroke-width="2.7"/>
<circle cx="658.6" cy="950.6" r="4.3" fill="#fff" stroke="#231f20" stroke-width="2.7"/>
<path d="M584.9 715.3V699.5H666.6V886.3" fill="none" stroke="#231f20" stroke-width="2.6" stroke-linejoin="miter"/>
<text x="624.5" y="696.12" font-size="29.5" font-family="'DejaVu Sans', sans-serif" font-weight="bold" text-anchor="middle" letter-spacing="2.6" fill="#231f20">*</text>
<text transform="translate(624.1 654.3) scale(0.93 1)" font-size="29.3" text-anchor="middle" fill="#231f20">CD206<tspan dy="-9.67" font-size="16.12">+</tspan><tspan dy="9.67">MHC-II</tspan><tspan dy="-9.67" font-size="16.12">-</tspan></text>
<rect x="810.3" y="842.1" width="53.1" height="136.5" fill="#30b44a" stroke="#231f20" stroke-width="2.8"/>
<rect x="891.5" y="929.5" width="52.7" height="49.1" fill="#d1d3d4" stroke="#231f20" stroke-width="2.8"/>
<line x1="782.8" y1="694" x2="782.8" y2="979.9" stroke="#231f20" stroke-width="2.6"/>
<line x1="771.6" y1="978.6" x2="782.8" y2="978.6" stroke="#231f20" stroke-width="2.6"/>
<text x="769.3" y="986.79" font-size="24" text-anchor="end" fill="#231f20">0</text>
<line x1="771.6" y1="884.17" x2="782.8" y2="884.17" stroke="#231f20" stroke-width="2.6"/>
<text x="769.3" y="892.36" font-size="24" text-anchor="end" fill="#231f20">2</text>
<line x1="771.6" y1="789.73" x2="782.8" y2="789.73" stroke="#231f20" stroke-width="2.6"/>
<text x="769.3" y="797.93" font-size="24" text-anchor="end" fill="#231f20">4</text>
<line x1="771.6" y1="695.3" x2="782.8" y2="695.3" stroke="#231f20" stroke-width="2.6"/>
<text x="769.3" y="703.49" font-size="24" text-anchor="end" fill="#231f20">6</text>
<line x1="771.6" y1="978.6" x2="973" y2="978.6" stroke="#231f20" stroke-width="2.6"/>
<line x1="836.4" y1="978.6" x2="836.4" y2="990.9" stroke="#231f20" stroke-width="2.6"/>
<line x1="917.6" y1="978.6" x2="917.6" y2="990.9" stroke="#231f20" stroke-width="2.6"/>
<line x1="836.8" y1="779.8" x2="836.8" y2="903.1" stroke="#231f20" stroke-width="2.7"/>
<line x1="823.55" y1="779.8" x2="850.05" y2="779.8" stroke="#231f20" stroke-width="2.7"/>
<line x1="823.55" y1="903.1" x2="850.05" y2="903.1" stroke="#231f20" stroke-width="2.7"/>
<line x1="917.8" y1="899.1" x2="917.8" y2="959.1" stroke="#231f20" stroke-width="2.7"/>
<line x1="904.55" y1="899.1" x2="931.05" y2="899.1" stroke="#231f20" stroke-width="2.7"/>
<line x1="904.55" y1="959.1" x2="931.05" y2="959.1" stroke="#231f20" stroke-width="2.7"/>
<circle cx="836.9" cy="736.9" r="4.3" fill="#fff" stroke="#231f20" stroke-width="2.7"/>
<circle cx="828.1" cy="822.3" r="4.3" fill="#fff" stroke="#231f20" stroke-width="2.7"/>
<circle cx="845.6" cy="828.7" r="4.3" fill="#fff" stroke="#231f20" stroke-width="2.7"/>
<circle cx="836.9" cy="863.6" r="4.3" fill="#fff" stroke="#231f20" stroke-width="2.7"/>
<circle cx="836.9" cy="881" r="4.3" fill="#fff" stroke="#231f20" stroke-width="2.7"/>
<circle cx="836.9" cy="916.2" r="4.3" fill="#fff" stroke="#231f20" stroke-width="2.7"/>
<circle cx="917.8" cy="885.8" r="4.3" fill="#fff" stroke="#231f20" stroke-width="2.7"/>
<circle cx="900.8" cy="907.9" r="4.3" fill="#fff" stroke="#231f20" stroke-width="2.7"/>
<circle cx="935.2" cy="907.9" r="4.3" fill="#fff" stroke="#231f20" stroke-width="2.7"/>
<circle cx="917.8" cy="915.1" r="4.3" fill="#fff" stroke="#231f20" stroke-width="2.7"/>
<circle cx="917.8" cy="933.5" r="4.3" fill="#fff" stroke="#231f20" stroke-width="2.7"/>
<circle cx="917.8" cy="948.7" r="4.3" fill="#fff" stroke="#231f20" stroke-width="2.7"/>
<circle cx="926.4" cy="964.4" r="4.3" fill="#fff" stroke="#231f20" stroke-width="2.7"/>
<circle cx="909.3" cy="970" r="4.3" fill="#fff" stroke="#231f20" stroke-width="2.7"/>
<path d="M836.9 719.8V703.5H918.1V869" fill="none" stroke="#231f20" stroke-width="2.6" stroke-linejoin="miter"/>
<text x="879.8" y="699.02" font-size="29.5" font-family="'DejaVu Sans', sans-serif" font-weight="bold" text-anchor="middle" letter-spacing="2.6" fill="#231f20">**</text>
<text transform="translate(878.2 654.3) scale(0.93 1)" font-size="29.3" text-anchor="middle" fill="#231f20">iNOS<tspan dy="-9.67" font-size="16.12">+</tspan><tspan dy="9.67">:CD206</tspan><tspan dy="-9.67" font-size="16.12">+</tspan></text>
<text transform="translate(742.6 835) rotate(-90) scale(0.93 1)" font-size="29.3" text-anchor="middle" fill="#231f20">Ratio</text>
<rect x="1092.8" y="834.1" width="52.9" height="144.5" fill="#30b44a" stroke="#231f20" stroke-width="2.8"/>
<rect x="1174" y="933" width="52.7" height="45.6" fill="#d1d3d4" stroke="#231f20" stroke-width="2.8"/>
<line x1="1065.6" y1="693.4" x2="1065.6" y2="979.9" stroke="#231f20" stroke-width="2.6"/>
<line x1="1053.9" y1="978.6" x2="1065.6" y2="978.6" stroke="#231f20" stroke-width="2.6"/>
<text x="1050.4" y="986.79" font-size="24" text-anchor="end" fill="#231f20">0</text>
<line x1="1053.9" y1="907.62" x2="1065.6" y2="907.62" stroke="#231f20" stroke-width="2.6"/>
<text x="1050.4" y="915.82" font-size="24" text-anchor="end" fill="#231f20">10</text>
<line x1="1053.9" y1="836.65" x2="1065.6" y2="836.65" stroke="#231f20" stroke-width="2.6"/>
<text x="1050.4" y="844.84" font-size="24" text-anchor="end" fill="#231f20">20</text>
<line x1="1053.9" y1="765.68" x2="1065.6" y2="765.68" stroke="#231f20" stroke-width="2.6"/>
<text x="1050.4" y="773.87" font-size="24" text-anchor="end" fill="#231f20">30</text>
<line x1="1053.9" y1="694.7" x2="1065.6" y2="694.7" stroke="#231f20" stroke-width="2.6"/>
<text x="1050.4" y="702.89" font-size="24" text-anchor="end" fill="#231f20">40</text>
<line x1="1053.9" y1="978.6" x2="1255.3" y2="978.6" stroke="#231f20" stroke-width="2.6"/>
<line x1="1118.9" y1="978.6" x2="1118.9" y2="990.9" stroke="#231f20" stroke-width="2.6"/>
<line x1="1200.4" y1="978.6" x2="1200.4" y2="990.9" stroke="#231f20" stroke-width="2.6"/>
<line x1="1119.3" y1="751.8" x2="1119.3" y2="915.1" stroke="#231f20" stroke-width="2.7"/>
<line x1="1106.05" y1="751.8" x2="1132.55" y2="751.8" stroke="#231f20" stroke-width="2.7"/>
<line x1="1106.05" y1="915.1" x2="1132.55" y2="915.1" stroke="#231f20" stroke-width="2.7"/>
<line x1="1200.4" y1="914.3" x2="1200.4" y2="949.5" stroke="#231f20" stroke-width="2.7"/>
<line x1="1187.15" y1="914.3" x2="1213.65" y2="914.3" stroke="#231f20" stroke-width="2.7"/>
<line x1="1187.15" y1="949.5" x2="1213.65" y2="949.5" stroke="#231f20" stroke-width="2.7"/>
<circle cx="1110.8" cy="735.8" r="4.3" fill="#fff" stroke="#231f20" stroke-width="2.7"/>
<circle cx="1127.7" cy="732.1" r="4.3" fill="#fff" stroke="#231f20" stroke-width="2.7"/>
<circle cx="1119.3" cy="846.6" r="4.3" fill="#fff" stroke="#231f20" stroke-width="2.7"/>
<circle cx="1119.3" cy="862.3" r="4.3" fill="#fff" stroke="#231f20" stroke-width="2.7"/>
<circle cx="1119.3" cy="905" r="4.3" fill="#fff" stroke="#231f20" stroke-width="2.7"/>
<circle cx="1119.3" cy="919.4" r="4.3" fill="#fff" stroke="#231f20" stroke-width="2.7"/>
<circle cx="1208.9" cy="907.1" r="4.3" fill="#fff" stroke="#231f20" stroke-width="2.7"/>
<circle cx="1191.8" cy="915.9" r="4.3" fill="#fff" stroke="#231f20" stroke-width="2.7"/>
<circle cx="1208.9" cy="917.5" r="4.3" fill="#fff" stroke="#231f20" stroke-width="2.7"/>
<circle cx="1200.4" cy="929.5" r="4.3" fill="#fff" stroke="#231f20" stroke-width="2.7"/>
<circle cx="1191.8" cy="942" r="4.3" fill="#fff" stroke="#231f20" stroke-width="2.7"/>
<circle cx="1208.9" cy="940.2" r="4.3" fill="#fff" stroke="#231f20" stroke-width="2.7"/>
<circle cx="1208.9" cy="950" r="4.3" fill="#fff" stroke="#231f20" stroke-width="2.7"/>
<circle cx="1191.8" cy="956.2" r="4.3" fill="#fff" stroke="#231f20" stroke-width="2.7"/>
<path d="M1119.3 715V698.5H1200.6V890.6" fill="none" stroke="#231f20" stroke-width="2.6" stroke-linejoin="miter"/>
<text x="1162.2" y="694.22" font-size="29.5" font-family="'DejaVu Sans', sans-serif" font-weight="bold" text-anchor="middle" letter-spacing="2.6" fill="#231f20">**</text>
<text transform="translate(1161.2 654.3) scale(0.93 1)" font-size="29.3" text-anchor="middle" fill="#231f20">iNOS<tspan dy="-9.67" font-size="16.12">+</tspan></text>
<text transform="translate(1008.8 829) rotate(-90) scale(0.93 1)" font-size="29.3" text-anchor="middle" fill="#231f20">Frequency (%)</text>
<rect x="1324.4" y="794.5" width="52.6" height="185.4" fill="#30b44a" stroke="#231f20" stroke-width="2.8"/>
<rect x="1405.6" y="830.2" width="52.7" height="149.7" fill="#d1d3d4" stroke="#231f20" stroke-width="2.8"/>
<line x1="1296.9" y1="694.5" x2="1296.9" y2="981.2" stroke="#231f20" stroke-width="2.6"/>
<line x1="1285.2" y1="979.9" x2="1296.9" y2="979.9" stroke="#231f20" stroke-width="2.6"/>
<text x="1281.7" y="988.09" font-size="24" text-anchor="end" fill="#231f20">0</text>
<line x1="1285.2" y1="908.88" x2="1296.9" y2="908.88" stroke="#231f20" stroke-width="2.6"/>
<text x="1281.7" y="917.07" font-size="24" text-anchor="end" fill="#231f20">10</text>
<line x1="1285.2" y1="837.85" x2="1296.9" y2="837.85" stroke="#231f20" stroke-width="2.6"/>
<text x="1281.7" y="846.04" font-size="24" text-anchor="end" fill="#231f20">20</text>
<line x1="1285.2" y1="766.82" x2="1296.9" y2="766.82" stroke="#231f20" stroke-width="2.6"/>
<text x="1281.7" y="775.02" font-size="24" text-anchor="end" fill="#231f20">30</text>
<line x1="1285.2" y1="695.8" x2="1296.9" y2="695.8" stroke="#231f20" stroke-width="2.6"/>
<text x="1281.7" y="703.99" font-size="24" text-anchor="end" fill="#231f20">40</text>
<line x1="1285.2" y1="979.9" x2="1486.9" y2="979.9" stroke="#231f20" stroke-width="2.6"/>
<line x1="1350.4" y1="979.9" x2="1350.4" y2="992.2" stroke="#231f20" stroke-width="2.6"/>
<line x1="1431.4" y1="979.9" x2="1431.4" y2="992.2" stroke="#231f20" stroke-width="2.6"/>
<line x1="1350.5" y1="759.8" x2="1350.5" y2="827.1" stroke="#231f20" stroke-width="2.7"/>
<line x1="1337.25" y1="759.8" x2="1363.75" y2="759.8" stroke="#231f20" stroke-width="2.7"/>
<line x1="1337.25" y1="827.1" x2="1363.75" y2="827.1" stroke="#231f20" stroke-width="2.7"/>
<line x1="1431.7" y1="802.6" x2="1431.7" y2="857" stroke="#231f20" stroke-width="2.7"/>
<line x1="1418.45" y1="802.6" x2="1444.95" y2="802.6" stroke="#231f20" stroke-width="2.7"/>
<line x1="1418.45" y1="857" x2="1444.95" y2="857" stroke="#231f20" stroke-width="2.7"/>
<circle cx="1341.7" cy="763.8" r="4.3" fill="#fff" stroke="#231f20" stroke-width="2.7"/>
<circle cx="1359.2" cy="762.2" r="4.3" fill="#fff" stroke="#231f20" stroke-width="2.7"/>
<circle cx="1341.7" cy="792.3" r="4.3" fill="#fff" stroke="#231f20" stroke-width="2.7"/>
<circle cx="1359.2" cy="788.6" r="4.3" fill="#fff" stroke="#231f20" stroke-width="2.7"/>
<circle cx="1350.5" cy="805" r="4.3" fill="#fff" stroke="#231f20" stroke-width="2.7"/>
<circle cx="1350.5" cy="853" r="4.3" fill="#fff" stroke="#231f20" stroke-width="2.7"/>
<circle cx="1431.7" cy="791" r="4.3" fill="#fff" stroke="#231f20" stroke-width="2.7"/>
<circle cx="1431.7" cy="800.6" r="4.3" fill="#fff" stroke="#231f20" stroke-width="2.7"/>
<circle cx="1431.7" cy="810.7" r="4.3" fill="#fff" stroke="#231f20" stroke-width="2.7"/>
<circle cx="1431.7" cy="823.4" r="4.3" fill="#fff" stroke="#231f20" stroke-width="2.7"/>
<circle cx="1423.2" cy="847.5" r="4.3" fill="#fff" stroke="#231f20" stroke-width="2.7"/>
<circle cx="1440.2" cy="844.3" r="4.3" fill="#fff" stroke="#231f20" stroke-width="2.7"/>
<circle cx="1423.2" cy="861.5" r="4.3" fill="#fff" stroke="#231f20" stroke-width="2.7"/>
<circle cx="1440.2" cy="859.6" r="4.3" fill="#fff" stroke="#231f20" stroke-width="2.7"/>
<path d="M1350.5 744.1V727.3H1431.7V774.6" fill="none" stroke="#231f20" stroke-width="2.6" stroke-linejoin="miter"/>
<text x="1389.3" y="723.02" font-size="29.5" font-family="'DejaVu Sans', sans-serif" font-weight="bold" text-anchor="middle" letter-spacing="2.6" fill="#231f20">*</text>
<text transform="translate(1394.8 654.3) scale(0.93 1)" font-size="29.3" text-anchor="middle" fill="#231f20">CD206<tspan dy="-9.67" font-size="16.12">-</tspan><tspan dy="9.67">MHC-II</tspan><tspan dy="-9.67" font-size="16.12">+</tspan></text>
<rect x="1551.2" y="870.6" width="52.6" height="109.3" fill="#30b44a" stroke="#231f20" stroke-width="2.8"/>
<rect x="1632.4" y="851" width="52.5" height="128.9" fill="#d1d3d4" stroke="#231f20" stroke-width="2.8"/>
<line x1="1523.7" y1="694.8" x2="1523.7" y2="981.2" stroke="#231f20" stroke-width="2.6"/>
<line x1="1512.5" y1="979.9" x2="1523.7" y2="979.9" stroke="#231f20" stroke-width="2.6"/>
<text x="1510.2" y="988.09" font-size="24" text-anchor="end" fill="#231f20">0</text>
<line x1="1512.5" y1="885.3" x2="1523.7" y2="885.3" stroke="#231f20" stroke-width="2.6"/>
<text x="1510.2" y="893.49" font-size="24" text-anchor="end" fill="#231f20">2</text>
<line x1="1512.5" y1="790.7" x2="1523.7" y2="790.7" stroke="#231f20" stroke-width="2.6"/>
<text x="1510.2" y="798.89" font-size="24" text-anchor="end" fill="#231f20">4</text>
<line x1="1512.5" y1="696.1" x2="1523.7" y2="696.1" stroke="#231f20" stroke-width="2.6"/>
<text x="1510.2" y="704.29" font-size="24" text-anchor="end" fill="#231f20">6</text>
<line x1="1512.5" y1="979.9" x2="1713.7" y2="979.9" stroke="#231f20" stroke-width="2.6"/>
<line x1="1577.3" y1="979.9" x2="1577.3" y2="992.2" stroke="#231f20" stroke-width="2.6"/>
<line x1="1658.5" y1="979.9" x2="1658.5" y2="992.2" stroke="#231f20" stroke-width="2.6"/>
<line x1="1577.6" y1="847.5" x2="1577.6" y2="892.2" stroke="#231f20" stroke-width="2.7"/>
<line x1="1564.35" y1="847.5" x2="1590.85" y2="847.5" stroke="#231f20" stroke-width="2.7"/>
<line x1="1564.35" y1="892.2" x2="1590.85" y2="892.2" stroke="#231f20" stroke-width="2.7"/>
<line x1="1658.6" y1="785.9" x2="1658.6" y2="915.1" stroke="#231f20" stroke-width="2.7"/>
<line x1="1645.35" y1="785.9" x2="1671.85" y2="785.9" stroke="#231f20" stroke-width="2.7"/>
<line x1="1645.35" y1="915.1" x2="1671.85" y2="915.1" stroke="#231f20" stroke-width="2.7"/>
<circle cx="1577.6" cy="843.9" r="4.3" fill="#fff" stroke="#231f20" stroke-width="2.7"/>
<circle cx="1568.8" cy="856.3" r="4.3" fill="#fff" stroke="#231f20" stroke-width="2.7"/>
<circle cx="1586.1" cy="856.3" r="4.3" fill="#fff" stroke="#231f20" stroke-width="2.7"/>
<circle cx="1568.8" cy="876.7" r="4.3" fill="#fff" stroke="#231f20" stroke-width="2.7"/>
<circle cx="1586.1" cy="880.4" r="4.3" fill="#fff" stroke="#231f20" stroke-width="2.7"/>
<circle cx="1577.6" cy="906" r="4.3" fill="#fff" stroke="#231f20" stroke-width="2.7"/>
<circle cx="1658.6" cy="735.3" r="4.3" fill="#fff" stroke="#231f20" stroke-width="2.7"/>
<circle cx="1658.6" cy="788.3" r="4.3" fill="#fff" stroke="#231f20" stroke-width="2.7"/>
<circle cx="1658.6" cy="857.5" r="4.3" fill="#fff" stroke="#231f20" stroke-width="2.7"/>
<circle cx="1658.6" cy="879.6" r="4.3" fill="#fff" stroke="#231f20" stroke-width="2.7"/>
<circle cx="1650.2" cy="892.2" r="4.3" fill="#fff" stroke="#231f20" stroke-width="2.7"/>
<circle cx="1667.3" cy="899.1" r="4.3" fill="#fff" stroke="#231f20" stroke-width="2.7"/>
<circle cx="1650.2" cy="903.4" r="4.3" fill="#fff" stroke="#231f20" stroke-width="2.7"/>
<text transform="translate(1618 654.3) scale(0.93 1)" font-size="29.3" text-anchor="middle" fill="#231f20">CD206<tspan dy="-9.67" font-size="16.12">+</tspan><tspan dy="9.67">MHC-II</tspan><tspan dy="-9.67" font-size="16.12">-</tspan></text>
<rect x="1821" y="865.5" width="52.6" height="114.9" fill="#30b44a" stroke="#231f20" stroke-width="2.8"/>
<rect x="1901.9" y="950.3" width="52.8" height="30.1" fill="#d1d3d4" stroke="#231f20" stroke-width="2.8"/>
<line x1="1793.5" y1="694.8" x2="1793.5" y2="981.7" stroke="#231f20" stroke-width="2.6"/>
<line x1="1782.2" y1="980.4" x2="1793.5" y2="980.4" stroke="#231f20" stroke-width="2.6"/>
<text x="1778.7" y="988.59" font-size="24" text-anchor="end" fill="#231f20">0.0</text>
<line x1="1782.2" y1="909.33" x2="1793.5" y2="909.33" stroke="#231f20" stroke-width="2.6"/>
<text x="1778.7" y="917.52" font-size="24" text-anchor="end" fill="#231f20">0.2</text>
<line x1="1782.2" y1="838.25" x2="1793.5" y2="838.25" stroke="#231f20" stroke-width="2.6"/>
<text x="1778.7" y="846.44" font-size="24" text-anchor="end" fill="#231f20">0.4</text>
<line x1="1782.2" y1="767.17" x2="1793.5" y2="767.17" stroke="#231f20" stroke-width="2.6"/>
<text x="1778.7" y="775.37" font-size="24" text-anchor="end" fill="#231f20">0.6</text>
<line x1="1782.2" y1="696.1" x2="1793.5" y2="696.1" stroke="#231f20" stroke-width="2.6"/>
<text x="1778.7" y="704.29" font-size="24" text-anchor="end" fill="#231f20">0.8</text>
<line x1="1782.2" y1="980.4" x2="1983.5" y2="980.4" stroke="#231f20" stroke-width="2.6"/>
<line x1="1847" y1="980.4" x2="1847" y2="992.7" stroke="#231f20" stroke-width="2.6"/>
<line x1="1928" y1="980.4" x2="1928" y2="992.7" stroke="#231f20" stroke-width="2.6"/>
<line x1="1847.1" y1="791.5" x2="1847.1" y2="937.5" stroke="#231f20" stroke-width="2.7"/>
<line x1="1833.85" y1="791.5" x2="1860.35" y2="791.5" stroke="#231f20" stroke-width="2.7"/>
<line x1="1833.85" y1="937.5" x2="1860.35" y2="937.5" stroke="#231f20" stroke-width="2.7"/>
<line x1="1928.3" y1="937.2" x2="1928.3" y2="961" stroke="#231f20" stroke-width="2.7"/>
<line x1="1915.05" y1="937.2" x2="1941.55" y2="937.2" stroke="#231f20" stroke-width="2.7"/>
<line x1="1915.05" y1="961" x2="1941.55" y2="961" stroke="#231f20" stroke-width="2.7"/>
<circle cx="1847.1" cy="759" r="4.3" fill="#fff" stroke="#231f20" stroke-width="2.7"/>
<circle cx="1847.1" cy="792.6" r="4.3" fill="#fff" stroke="#231f20" stroke-width="2.7"/>
<circle cx="1847.1" cy="878.6" r="4.3" fill="#fff" stroke="#231f20" stroke-width="2.7"/>
<circle cx="1847.1" cy="892.2" r="4.3" fill="#fff" stroke="#231f20" stroke-width="2.7"/>
<circle cx="1838.7" cy="934" r="4.3" fill="#fff" stroke="#231f20" stroke-width="2.7"/>
<circle cx="1855.8" cy="933" r="4.3" fill="#fff" stroke="#231f20" stroke-width="2.7"/>
<circle cx="1928.3" cy="931.1" r="4.3" fill="#fff" stroke="#231f20" stroke-width="2.7"/>
<circle cx="1911.5" cy="945.5" r="4.3" fill="#fff" stroke="#231f20" stroke-width="2.7"/>
<circle cx="1928.3" cy="942" r="4.3" fill="#fff" stroke="#231f20" stroke-width="2.7"/>
<circle cx="1945.4" cy="942" r="4.3" fill="#fff" stroke="#231f20" stroke-width="2.7"/>
<circle cx="1945.4" cy="954.3" r="4.3" fill="#fff" stroke="#231f20" stroke-width="2.7"/>
<circle cx="1928.3" cy="956.2" r="4.3" fill="#fff" stroke="#231f20" stroke-width="2.7"/>
<circle cx="1911.5" cy="965" r="4.3" fill="#fff" stroke="#231f20" stroke-width="2.7"/>
<circle cx="1945.4" cy="962.6" r="4.3" fill="#fff" stroke="#231f20" stroke-width="2.7"/>
<path d="M1847.1 741.9V725.4H1928.6V914.6" fill="none" stroke="#231f20" stroke-width="2.6" stroke-linejoin="miter"/>
<text x="1887.5" y="720.92" font-size="29.5" font-family="'DejaVu Sans', sans-serif" font-weight="bold" text-anchor="middle" letter-spacing="2.6" fill="#231f20">**</text>
<text transform="translate(1868 654.3) scale(0.93 1)" font-size="29.3" text-anchor="middle" fill="#231f20">iNOS<tspan dy="-9.67" font-size="16.12">+</tspan><tspan dy="9.67">:CD206</tspan><tspan dy="-9.67" font-size="16.12">+</tspan></text>
<text transform="translate(1734.8 835.5) rotate(-90) scale(0.93 1)" font-size="29.3" text-anchor="middle" fill="#231f20">Ratio</text>
<text transform="translate(930.2 1043.6) scale(0.93 1)" font-size="29.3" text-anchor="start" fill="#00a651">LEC</text>
<text transform="translate(983.6 1035) scale(0.93 1)" font-size="17" text-anchor="start" fill="#00a651">WT</text>
<text transform="translate(1020.2 1043.6) scale(0.93 1)" font-size="29.3" text-anchor="start" fill="#58595b">LEC</text>
<path d="M1075.9 1034.6L1082 1023.4L1088.1 1034.6Z" fill="none" stroke="#6d6e71" stroke-width="0.8" stroke-linejoin="miter"/>
<text transform="translate(1089.8 1034.8) scale(0.93 1)" font-size="17" text-anchor="start" fill="#58595b">Ch25h</text>
<text transform="translate(13.6 1099) scale(0.93 1)" font-size="50" text-anchor="start" fill="#231f20" font-weight="bold">E</text>
<rect x="105.4" y="1338.1" width="52.3" height="174.3" fill="#30b44a" stroke="#231f20" stroke-width="2.8"/>
<rect x="186.4" y="1486.2" width="52.8" height="26.2" fill="#d1d3d4" stroke="#231f20" stroke-width="2.8"/>
<line x1="77.6" y1="1226.4" x2="77.6" y2="1513.7" stroke="#231f20" stroke-width="2.6"/>
<line x1="66.2" y1="1512.4" x2="77.6" y2="1512.4" stroke="#231f20" stroke-width="2.6"/>
<text x="62.3" y="1520.59" font-size="24" text-anchor="end" fill="#231f20">0</text>
<line x1="66.2" y1="1455.46" x2="77.6" y2="1455.46" stroke="#231f20" stroke-width="2.6"/>
<text x="62.3" y="1463.65" font-size="24" text-anchor="end" fill="#231f20">10</text>
<line x1="66.2" y1="1398.52" x2="77.6" y2="1398.52" stroke="#231f20" stroke-width="2.6"/>
<text x="62.3" y="1406.71" font-size="24" text-anchor="end" fill="#231f20">20</text>
<line x1="66.2" y1="1341.58" x2="77.6" y2="1341.58" stroke="#231f20" stroke-width="2.6"/>
<text x="62.3" y="1349.77" font-size="24" text-anchor="end" fill="#231f20">30</text>
<line x1="66.2" y1="1284.64" x2="77.6" y2="1284.64" stroke="#231f20" stroke-width="2.6"/>
<text x="62.3" y="1292.83" font-size="24" text-anchor="end" fill="#231f20">40</text>
<line x1="66.2" y1="1227.7" x2="77.6" y2="1227.7" stroke="#231f20" stroke-width="2.6"/>
<text x="62.3" y="1235.89" font-size="24" text-anchor="end" fill="#231f20">50</text>
<line x1="66.2" y1="1512.4" x2="267.8" y2="1512.4" stroke="#231f20" stroke-width="2.6"/>
<line x1="131.3" y1="1512.4" x2="131.3" y2="1524.7" stroke="#231f20" stroke-width="2.6"/>
<line x1="212.5" y1="1512.4" x2="212.5" y2="1524.7" stroke="#231f20" stroke-width="2.6"/>
<line x1="131.6" y1="1269.1" x2="131.6" y2="1407.1" stroke="#231f20" stroke-width="2.7"/>
<line x1="118.35" y1="1269.1" x2="144.85" y2="1269.1" stroke="#231f20" stroke-width="2.7"/>
<line x1="118.35" y1="1407.1" x2="144.85" y2="1407.1" stroke="#231f20" stroke-width="2.7"/>
<line x1="213" y1="1473.7" x2="213" y2="1497.6" stroke="#231f20" stroke-width="2.7"/>
<line x1="199.75" y1="1473.7" x2="226.25" y2="1473.7" stroke="#231f20" stroke-width="2.7"/>
<line x1="199.75" y1="1497.6" x2="226.25" y2="1497.6" stroke="#231f20" stroke-width="2.7"/>
<circle cx="123.2" cy="1268.8" r="4.3" fill="#fff" stroke="#231f20" stroke-width="2.7"/>
<circle cx="140.5" cy="1264.1" r="4.3" fill="#fff" stroke="#231f20" stroke-width="2.7"/>
<circle cx="131.6" cy="1319.9" r="4.3" fill="#fff" stroke="#231f20" stroke-width="2.7"/>
<circle cx="131.6" cy="1339.7" r="4.3" fill="#fff" stroke="#231f20" stroke-width="2.7"/>
<circle cx="131.6" cy="1405.4" r="4.3" fill="#fff" stroke="#231f20" stroke-width="2.7"/>
<circle cx="131.6" cy="1430.1" r="4.3" fill="#fff" stroke="#231f20" stroke-width="2.7"/>
<circle cx="213" cy="1465.3" r="4.3" fill="#fff" stroke="#231f20" stroke-width="2.7"/>
<circle cx="205.4" cy="1488.7" r="4.3" fill="#fff" stroke="#231f20" stroke-width="2.7"/>
<circle cx="235.6" cy="1488.7" r="4.3" fill="#fff" stroke="#231f20" stroke-width="2.7"/>
<circle cx="220.5" cy="1490.9" r="4.3" fill="#fff" stroke="#231f20" stroke-width="2.7"/>
<circle cx="190" cy="1496" r="4.3" fill="#fff" stroke="#231f20" stroke-width="2.7"/>
<path d="M131.6 1247V1230.2H213.3V1447.7" fill="none" stroke="#231f20" stroke-width="2.6" stroke-linejoin="miter"/>
<text x="174" y="1225.32" font-size="29.5" font-family="'DejaVu Sans', sans-serif" font-weight="bold" text-anchor="middle" letter-spacing="2.6" fill="#231f20">**</text>
<text transform="translate(171.4 1140) scale(0.93 1)" font-size="29.3" text-anchor="middle" fill="#231f20">CD8</text>
<text transform="translate(181.6 1174) scale(0.93 1)" font-size="29.3" text-anchor="middle" fill="#231f20">IFN-γ<tspan dy="-9.67" font-size="16.12">+</tspan></text>
<text transform="translate(22.6 1362) rotate(-90) scale(0.93 1)" font-size="29.3" text-anchor="middle" fill="#231f20">Frequency (%)</text>
<rect x="338.4" y="1404.8" width="52.8" height="107.6" fill="#30b44a" stroke="#231f20" stroke-width="2.8"/>
<rect x="419.7" y="1383" width="52.7" height="129.4" fill="#d1d3d4" stroke="#231f20" stroke-width="2.8"/>
<line x1="310.8" y1="1226.4" x2="310.8" y2="1513.7" stroke="#231f20" stroke-width="2.6"/>
<line x1="299.9" y1="1512.4" x2="310.8" y2="1512.4" stroke="#231f20" stroke-width="2.6"/>
<text x="296" y="1520.59" font-size="24" text-anchor="end" fill="#231f20">0</text>
<line x1="299.9" y1="1441.23" x2="310.8" y2="1441.23" stroke="#231f20" stroke-width="2.6"/>
<text x="296" y="1449.42" font-size="24" text-anchor="end" fill="#231f20">5</text>
<line x1="299.9" y1="1370.05" x2="310.8" y2="1370.05" stroke="#231f20" stroke-width="2.6"/>
<text x="296" y="1378.24" font-size="24" text-anchor="end" fill="#231f20">10</text>
<line x1="299.9" y1="1298.88" x2="310.8" y2="1298.88" stroke="#231f20" stroke-width="2.6"/>
<text x="296" y="1307.07" font-size="24" text-anchor="end" fill="#231f20">15</text>
<line x1="299.9" y1="1227.7" x2="310.8" y2="1227.7" stroke="#231f20" stroke-width="2.6"/>
<text x="296" y="1235.89" font-size="24" text-anchor="end" fill="#231f20">20</text>
<line x1="299.9" y1="1512.4" x2="501.1" y2="1512.4" stroke="#231f20" stroke-width="2.6"/>
<line x1="364.5" y1="1512.4" x2="364.5" y2="1524.7" stroke="#231f20" stroke-width="2.6"/>
<line x1="445.8" y1="1512.4" x2="445.8" y2="1524.7" stroke="#231f20" stroke-width="2.6"/>
<line x1="365" y1="1346.7" x2="365" y2="1462.4" stroke="#231f20" stroke-width="2.7"/>
<line x1="351.75" y1="1346.7" x2="378.25" y2="1346.7" stroke="#231f20" stroke-width="2.7"/>
<line x1="351.75" y1="1462.4" x2="378.25" y2="1462.4" stroke="#231f20" stroke-width="2.7"/>
<line x1="446.3" y1="1361" x2="446.3" y2="1404.9" stroke="#231f20" stroke-width="2.7"/>
<line x1="433.05" y1="1361" x2="459.55" y2="1361" stroke="#231f20" stroke-width="2.7"/>
<line x1="433.05" y1="1404.9" x2="459.55" y2="1404.9" stroke="#231f20" stroke-width="2.7"/>
<circle cx="365" cy="1300.6" r="4.3" fill="#fff" stroke="#231f20" stroke-width="2.7"/>
<circle cx="365" cy="1392.5" r="4.3" fill="#fff" stroke="#231f20" stroke-width="2.7"/>
<circle cx="373.4" cy="1410.4" r="4.3" fill="#fff" stroke="#231f20" stroke-width="2.7"/>
<circle cx="356.1" cy="1417.5" r="4.3" fill="#fff" stroke="#231f20" stroke-width="2.7"/>
<circle cx="365" cy="1436.9" r="4.3" fill="#fff" stroke="#231f20" stroke-width="2.7"/>
<circle cx="365" cy="1470.5" r="4.3" fill="#fff" stroke="#231f20" stroke-width="2.7"/>
<circle cx="446.3" cy="1348.9" r="4.3" fill="#fff" stroke="#231f20" stroke-width="2.7"/>
<circle cx="454.7" cy="1378.6" r="4.3" fill="#fff" stroke="#231f20" stroke-width="2.7"/>
<circle cx="437.6" cy="1383.9" r="4.3" fill="#fff" stroke="#231f20" stroke-width="2.7"/>
<circle cx="454.7" cy="1397.9" r="4.3" fill="#fff" stroke="#231f20" stroke-width="2.7"/>
<circle cx="437.6" cy="1404.9" r="4.3" fill="#fff" stroke="#231f20" stroke-width="2.7"/>
<text transform="translate(408 1140) scale(0.93 1)" font-size="29.3" text-anchor="middle" fill="#231f20">CD8</text>
<text transform="translate(408 1174) scale(0.93 1)" font-size="29.3" text-anchor="middle" fill="#231f20">Granzyme-B<tspan dy="-9.67" font-size="16.12">+</tspan></text>
<rect x="575.4" y="1399.3" width="52.8" height="112.9" fill="#30b44a" stroke="#231f20" stroke-width="2.8"/>
<line x1="547.6" y1="1226.4" x2="547.6" y2="1513.5" stroke="#231f20" stroke-width="2.6"/>
<line x1="536.6" y1="1512.2" x2="547.6" y2="1512.2" stroke="#231f20" stroke-width="2.6"/>
<text x="532.7" y="1520.39" font-size="24" text-anchor="end" fill="#231f20">0</text>
<line x1="536.6" y1="1441.08" x2="547.6" y2="1441.08" stroke="#231f20" stroke-width="2.6"/>
<text x="532.7" y="1449.27" font-size="24" text-anchor="end" fill="#231f20">20</text>
<line x1="536.6" y1="1369.95" x2="547.6" y2="1369.95" stroke="#231f20" stroke-width="2.6"/>
<text x="532.7" y="1378.14" font-size="24" text-anchor="end" fill="#231f20">40</text>
<line x1="536.6" y1="1298.83" x2="547.6" y2="1298.83" stroke="#231f20" stroke-width="2.6"/>
<text x="532.7" y="1307.02" font-size="24" text-anchor="end" fill="#231f20">60</text>
<line x1="536.6" y1="1227.7" x2="547.6" y2="1227.7" stroke="#231f20" stroke-width="2.6"/>
<text x="532.7" y="1235.89" font-size="24" text-anchor="end" fill="#231f20">80</text>
<line x1="536.6" y1="1512.2" x2="738.3" y2="1512.2" stroke="#231f20" stroke-width="2.6"/>
<line x1="601.6" y1="1512.2" x2="601.6" y2="1524.5" stroke="#231f20" stroke-width="2.6"/>
<line x1="683" y1="1512.2" x2="683" y2="1524.5" stroke="#231f20" stroke-width="2.6"/>
<line x1="602" y1="1317.4" x2="602" y2="1480.4" stroke="#231f20" stroke-width="2.7"/>
<line x1="588.75" y1="1317.4" x2="615.25" y2="1317.4" stroke="#231f20" stroke-width="2.7"/>
<line x1="588.75" y1="1480.4" x2="615.25" y2="1480.4" stroke="#231f20" stroke-width="2.7"/>
<circle cx="602" cy="1273.8" r="4.3" fill="#fff" stroke="#231f20" stroke-width="2.7"/>
<circle cx="602" cy="1338.3" r="4.3" fill="#fff" stroke="#231f20" stroke-width="2.7"/>
<circle cx="602" cy="1392.5" r="4.3" fill="#fff" stroke="#231f20" stroke-width="2.7"/>
<circle cx="602" cy="1431.9" r="4.3" fill="#fff" stroke="#231f20" stroke-width="2.7"/>
<circle cx="610.5" cy="1474.5" r="4.3" fill="#fff" stroke="#231f20" stroke-width="2.7"/>
<circle cx="593.2" cy="1482.2" r="4.3" fill="#fff" stroke="#231f20" stroke-width="2.7"/>
<circle cx="660.3" cy="1506.9" r="4.3" fill="#fff" stroke="#231f20" stroke-width="2.7"/>
<circle cx="671.7" cy="1503.8" r="4.3" fill="#fff" stroke="#231f20" stroke-width="2.7"/>
<circle cx="683" cy="1506.5" r="4.3" fill="#fff" stroke="#231f20" stroke-width="2.7"/>
<circle cx="694.4" cy="1504.3" r="4.3" fill="#fff" stroke="#231f20" stroke-width="2.7"/>
<circle cx="706.1" cy="1507.2" r="4.3" fill="#fff" stroke="#231f20" stroke-width="2.7"/>
<path d="M602 1256.7V1239.7H683.3V1487.1" fill="none" stroke="#231f20" stroke-width="2.6" stroke-linejoin="miter"/>
<text x="641.2" y="1235.42" font-size="29.5" font-family="'DejaVu Sans', sans-serif" font-weight="bold" text-anchor="middle" letter-spacing="2.6" fill="#231f20">*</text>
<text transform="translate(634 1140) scale(0.93 1)" font-size="29.3" text-anchor="middle" fill="#231f20">CD8</text>
<text transform="translate(650.4 1174) scale(0.93 1)" font-size="29.3" text-anchor="middle" fill="#231f20">TNF-a<tspan dy="-9.67" font-size="16.12">+</tspan></text>
<rect x="809.5" y="1386.4" width="52.8" height="126.3" fill="#30b44a" stroke="#231f20" stroke-width="2.8"/>
<rect x="891.4" y="1446.4" width="52.3" height="66.3" fill="#d1d3d4" stroke="#231f20" stroke-width="2.8"/>
<line x1="782.1" y1="1227.2" x2="782.1" y2="1514" stroke="#231f20" stroke-width="2.6"/>
<line x1="771.2" y1="1512.7" x2="782.1" y2="1512.7" stroke="#231f20" stroke-width="2.6"/>
<text x="767.3" y="1520.89" font-size="24" text-anchor="end" fill="#231f20">0</text>
<line x1="771.2" y1="1441.65" x2="782.1" y2="1441.65" stroke="#231f20" stroke-width="2.6"/>
<text x="767.3" y="1449.84" font-size="24" text-anchor="end" fill="#231f20">5</text>
<line x1="771.2" y1="1370.6" x2="782.1" y2="1370.6" stroke="#231f20" stroke-width="2.6"/>
<text x="767.3" y="1378.79" font-size="24" text-anchor="end" fill="#231f20">10</text>
<line x1="771.2" y1="1299.55" x2="782.1" y2="1299.55" stroke="#231f20" stroke-width="2.6"/>
<text x="767.3" y="1307.74" font-size="24" text-anchor="end" fill="#231f20">15</text>
<line x1="771.2" y1="1228.5" x2="782.1" y2="1228.5" stroke="#231f20" stroke-width="2.6"/>
<text x="767.3" y="1236.69" font-size="24" text-anchor="end" fill="#231f20">20</text>
<line x1="771.2" y1="1512.7" x2="972.4" y2="1512.7" stroke="#231f20" stroke-width="2.6"/>
<line x1="835.4" y1="1512.7" x2="835.4" y2="1525" stroke="#231f20" stroke-width="2.6"/>
<line x1="917.1" y1="1512.7" x2="917.1" y2="1525" stroke="#231f20" stroke-width="2.6"/>
<line x1="836.1" y1="1314.5" x2="836.1" y2="1458.2" stroke="#231f20" stroke-width="2.7"/>
<line x1="822.85" y1="1314.5" x2="849.35" y2="1314.5" stroke="#231f20" stroke-width="2.7"/>
<line x1="822.85" y1="1458.2" x2="849.35" y2="1458.2" stroke="#231f20" stroke-width="2.7"/>
<line x1="917.4" y1="1427.7" x2="917.4" y2="1464.4" stroke="#231f20" stroke-width="2.7"/>
<line x1="904.15" y1="1427.7" x2="930.65" y2="1427.7" stroke="#231f20" stroke-width="2.7"/>
<line x1="904.15" y1="1464.4" x2="930.65" y2="1464.4" stroke="#231f20" stroke-width="2.7"/>
<circle cx="836.1" cy="1260" r="4.3" fill="#fff" stroke="#231f20" stroke-width="2.7"/>
<circle cx="827" cy="1380.3" r="4.3" fill="#fff" stroke="#231f20" stroke-width="2.7"/>
<circle cx="845" cy="1380.3" r="4.3" fill="#fff" stroke="#231f20" stroke-width="2.7"/>
<circle cx="836.1" cy="1389.8" r="4.3" fill="#fff" stroke="#231f20" stroke-width="2.7"/>
<circle cx="836.1" cy="1436.8" r="4.3" fill="#fff" stroke="#231f20" stroke-width="2.7"/>
<circle cx="836.1" cy="1471.3" r="4.3" fill="#fff" stroke="#231f20" stroke-width="2.7"/>
<circle cx="917.4" cy="1419.2" r="4.3" fill="#fff" stroke="#231f20" stroke-width="2.7"/>
<circle cx="917.4" cy="1439.8" r="4.3" fill="#fff" stroke="#231f20" stroke-width="2.7"/>
<circle cx="908.7" cy="1449.3" r="4.3" fill="#fff" stroke="#231f20" stroke-width="2.7"/>
<circle cx="926" cy="1456.1" r="4.3" fill="#fff" stroke="#231f20" stroke-width="2.7"/>
<circle cx="917.4" cy="1467" r="4.3" fill="#fff" stroke="#231f20" stroke-width="2.7"/>
<text transform="translate(867.1 1140) scale(0.93 1)" font-size="29.3" text-anchor="middle" fill="#231f20">CD8</text>
<text transform="translate(866.3 1174) scale(0.93 1)" font-size="29.3" text-anchor="middle" fill="#231f20">IFN-γ<tspan dy="-9.67" font-size="16.12">+</tspan><tspan dy="9.67">Granzyme-B</tspan><tspan dy="-9.67" font-size="16.12">+</tspan></text>
<rect x="1046.7" y="1407.4" width="52.8" height="105.7" fill="#30b44a" stroke="#231f20" stroke-width="2.8"/>
<line x1="1019.3" y1="1227.2" x2="1019.3" y2="1514.4" stroke="#231f20" stroke-width="2.6"/>
<line x1="1007.9" y1="1513.1" x2="1019.3" y2="1513.1" stroke="#231f20" stroke-width="2.6"/>
<text x="1004" y="1521.29" font-size="24" text-anchor="end" fill="#231f20">0</text>
<line x1="1007.9" y1="1456.18" x2="1019.3" y2="1456.18" stroke="#231f20" stroke-width="2.6"/>
<text x="1004" y="1464.37" font-size="24" text-anchor="end" fill="#231f20">10</text>
<line x1="1007.9" y1="1399.26" x2="1019.3" y2="1399.26" stroke="#231f20" stroke-width="2.6"/>
<text x="1004" y="1407.45" font-size="24" text-anchor="end" fill="#231f20">20</text>
<line x1="1007.9" y1="1342.34" x2="1019.3" y2="1342.34" stroke="#231f20" stroke-width="2.6"/>
<text x="1004" y="1350.53" font-size="24" text-anchor="end" fill="#231f20">30</text>
<line x1="1007.9" y1="1285.42" x2="1019.3" y2="1285.42" stroke="#231f20" stroke-width="2.6"/>
<text x="1004" y="1293.61" font-size="24" text-anchor="end" fill="#231f20">40</text>
<line x1="1007.9" y1="1228.5" x2="1019.3" y2="1228.5" stroke="#231f20" stroke-width="2.6"/>
<text x="1004" y="1236.69" font-size="24" text-anchor="end" fill="#231f20">50</text>
<line x1="1007.9" y1="1513.1" x2="1209.6" y2="1513.1" stroke="#231f20" stroke-width="2.6"/>
<line x1="1073" y1="1513.1" x2="1073" y2="1525.4" stroke="#231f20" stroke-width="2.6"/>
<line x1="1154.3" y1="1513.1" x2="1154.3" y2="1525.4" stroke="#231f20" stroke-width="2.6"/>
<line x1="1073.3" y1="1327.4" x2="1073.3" y2="1485.9" stroke="#231f20" stroke-width="2.7"/>
<line x1="1060.05" y1="1327.4" x2="1086.55" y2="1327.4" stroke="#231f20" stroke-width="2.7"/>
<line x1="1060.05" y1="1485.9" x2="1086.55" y2="1485.9" stroke="#231f20" stroke-width="2.7"/>
<circle cx="1073.3" cy="1287.5" r="4.3" fill="#fff" stroke="#231f20" stroke-width="2.7"/>
<circle cx="1073.3" cy="1338.8" r="4.3" fill="#fff" stroke="#231f20" stroke-width="2.7"/>
<circle cx="1073.3" cy="1416.8" r="4.3" fill="#fff" stroke="#231f20" stroke-width="2.7"/>
<circle cx="1073.3" cy="1430.1" r="4.3" fill="#fff" stroke="#231f20" stroke-width="2.7"/>
<circle cx="1082" cy="1483" r="4.3" fill="#fff" stroke="#231f20" stroke-width="2.7"/>
<circle cx="1064.6" cy="1486.2" r="4.3" fill="#fff" stroke="#231f20" stroke-width="2.7"/>
<circle cx="1132" cy="1509" r="4.3" fill="#fff" stroke="#231f20" stroke-width="2.7"/>
<circle cx="1143.2" cy="1507.7" r="4.3" fill="#fff" stroke="#231f20" stroke-width="2.7"/>
<circle cx="1154.6" cy="1509" r="4.3" fill="#fff" stroke="#231f20" stroke-width="2.7"/>
<circle cx="1165.9" cy="1508" r="4.3" fill="#fff" stroke="#231f20" stroke-width="2.7"/>
<circle cx="1177.6" cy="1509.4" r="4.3" fill="#fff" stroke="#231f20" stroke-width="2.7"/>
<path d="M1073.3 1270.8V1253.7H1154.6V1490.6" fill="none" stroke="#231f20" stroke-width="2.6" stroke-linejoin="miter"/>
<text x="1112.3" y="1249.12" font-size="29.5" font-family="'DejaVu Sans', sans-serif" font-weight="bold" text-anchor="middle" letter-spacing="2.6" fill="#231f20">*</text>
<text transform="translate(1110.9 1140) scale(0.93 1)" font-size="29.3" text-anchor="middle" fill="#231f20">CD8</text>
<text transform="translate(1111.4 1174) scale(0.93 1)" font-size="29.3" text-anchor="middle" fill="#231f20">IFN-γ<tspan dy="-9.67" font-size="16.12">+</tspan><tspan dy="9.67">TNF-a</tspan><tspan dy="-9.67" font-size="16.12">+</tspan></text>
<rect x="1283.4" y="1434.2" width="52.8" height="78.9" fill="#30b44a" stroke="#231f20" stroke-width="2.8"/>
<rect x="1364.4" y="1302.2" width="53.1" height="210.9" fill="#d1d3d4" stroke="#231f20" stroke-width="2.8"/>
<line x1="1255.5" y1="1227.2" x2="1255.5" y2="1514.4" stroke="#231f20" stroke-width="2.6"/>
<line x1="1244.2" y1="1513.1" x2="1255.5" y2="1513.1" stroke="#231f20" stroke-width="2.6"/>
<text x="1240.3" y="1521.29" font-size="24" text-anchor="end" fill="#231f20">0</text>
<line x1="1244.2" y1="1441.95" x2="1255.5" y2="1441.95" stroke="#231f20" stroke-width="2.6"/>
<text x="1240.3" y="1450.14" font-size="24" text-anchor="end" fill="#231f20">10</text>
<line x1="1244.2" y1="1370.8" x2="1255.5" y2="1370.8" stroke="#231f20" stroke-width="2.6"/>
<text x="1240.3" y="1378.99" font-size="24" text-anchor="end" fill="#231f20">20</text>
<line x1="1244.2" y1="1299.65" x2="1255.5" y2="1299.65" stroke="#231f20" stroke-width="2.6"/>
<text x="1240.3" y="1307.84" font-size="24" text-anchor="end" fill="#231f20">30</text>
<line x1="1244.2" y1="1228.5" x2="1255.5" y2="1228.5" stroke="#231f20" stroke-width="2.6"/>
<text x="1240.3" y="1236.69" font-size="24" text-anchor="end" fill="#231f20">40</text>
<line x1="1244.2" y1="1513.1" x2="1446.1" y2="1513.1" stroke="#231f20" stroke-width="2.6"/>
<line x1="1309.1" y1="1513.1" x2="1309.1" y2="1525.4" stroke="#231f20" stroke-width="2.6"/>
<line x1="1390.8" y1="1513.1" x2="1390.8" y2="1525.4" stroke="#231f20" stroke-width="2.6"/>
<line x1="1309.5" y1="1406.6" x2="1309.5" y2="1461.1" stroke="#231f20" stroke-width="2.7"/>
<line x1="1296.25" y1="1406.6" x2="1322.75" y2="1406.6" stroke="#231f20" stroke-width="2.7"/>
<line x1="1296.25" y1="1461.1" x2="1322.75" y2="1461.1" stroke="#231f20" stroke-width="2.7"/>
<line x1="1390.9" y1="1272.4" x2="1390.9" y2="1331.3" stroke="#231f20" stroke-width="2.7"/>
<line x1="1377.65" y1="1272.4" x2="1404.15" y2="1272.4" stroke="#231f20" stroke-width="2.7"/>
<line x1="1377.65" y1="1331.3" x2="1404.15" y2="1331.3" stroke="#231f20" stroke-width="2.7"/>
<circle cx="1309.6" cy="1389.5" r="4.3" fill="#fff" stroke="#231f20" stroke-width="2.7"/>
<circle cx="1301.1" cy="1425" r="4.3" fill="#fff" stroke="#231f20" stroke-width="2.7"/>
<circle cx="1318.3" cy="1431.4" r="4.3" fill="#fff" stroke="#231f20" stroke-width="2.7"/>
<circle cx="1301.1" cy="1438.6" r="4.3" fill="#fff" stroke="#231f20" stroke-width="2.7"/>
<circle cx="1318.3" cy="1445.2" r="4.3" fill="#fff" stroke="#231f20" stroke-width="2.7"/>
<circle cx="1309.6" cy="1473" r="4.3" fill="#fff" stroke="#231f20" stroke-width="2.7"/>
<circle cx="1390.9" cy="1255" r="4.3" fill="#fff" stroke="#231f20" stroke-width="2.7"/>
<circle cx="1399.7" cy="1299.3" r="4.3" fill="#fff" stroke="#231f20" stroke-width="2.7"/>
<circle cx="1382.4" cy="1306" r="4.3" fill="#fff" stroke="#231f20" stroke-width="2.7"/>
<circle cx="1399.7" cy="1313.7" r="4.3" fill="#fff" stroke="#231f20" stroke-width="2.7"/>
<circle cx="1390.9" cy="1335.8" r="4.3" fill="#fff" stroke="#231f20" stroke-width="2.7"/>
<path d="M1309.5 1372.7V1221.3H1390.9V1238.1" fill="none" stroke="#231f20" stroke-width="2.6" stroke-linejoin="miter"/>
<text x="1353.7" y="1215.92" font-size="29.5" font-family="'DejaVu Sans', sans-serif" font-weight="bold" text-anchor="middle" letter-spacing="2.6" fill="#231f20">****</text>
<text transform="translate(1350.6 1140) scale(0.93 1)" font-size="29.3" text-anchor="middle" fill="#231f20">CD8</text>
<text transform="translate(1351 1174) scale(0.93 1)" font-size="29.3" text-anchor="middle" fill="#231f20">PD-1<tspan dy="-9.67" font-size="16.12">+</tspan><tspan dy="9.67">Tim-3</tspan><tspan dy="-9.67" font-size="16.12">+</tspan></text>
<rect x="1525.1" y="1328.9" width="52.6" height="182.5" fill="#30b44a" stroke="#231f20" stroke-width="2.8"/>
<rect x="1606.1" y="1483.3" width="52.9" height="28.1" fill="#d1d3d4" stroke="#231f20" stroke-width="2.8"/>
<line x1="1497.1" y1="1225.2" x2="1497.1" y2="1512.7" stroke="#231f20" stroke-width="2.6"/>
<line x1="1486.2" y1="1511.4" x2="1497.1" y2="1511.4" stroke="#231f20" stroke-width="2.6"/>
<text x="1482.3" y="1519.59" font-size="24" text-anchor="end" fill="#231f20">0</text>
<line x1="1486.2" y1="1416.43" x2="1497.1" y2="1416.43" stroke="#231f20" stroke-width="2.6"/>
<text x="1482.3" y="1424.63" font-size="24" text-anchor="end" fill="#231f20">5</text>
<line x1="1486.2" y1="1321.47" x2="1497.1" y2="1321.47" stroke="#231f20" stroke-width="2.6"/>
<text x="1482.3" y="1329.66" font-size="24" text-anchor="end" fill="#231f20">10</text>
<line x1="1486.2" y1="1226.5" x2="1497.1" y2="1226.5" stroke="#231f20" stroke-width="2.6"/>
<text x="1482.3" y="1234.69" font-size="24" text-anchor="end" fill="#231f20">15</text>
<line x1="1486.2" y1="1511.4" x2="1687.8" y2="1511.4" stroke="#231f20" stroke-width="2.6"/>
<line x1="1551.1" y1="1511.4" x2="1551.1" y2="1523.7" stroke="#231f20" stroke-width="2.6"/>
<line x1="1632.5" y1="1511.4" x2="1632.5" y2="1523.7" stroke="#231f20" stroke-width="2.6"/>
<line x1="1551.3" y1="1245.3" x2="1551.3" y2="1409.6" stroke="#231f20" stroke-width="2.7"/>
<line x1="1538.05" y1="1245.3" x2="1564.55" y2="1245.3" stroke="#231f20" stroke-width="2.7"/>
<line x1="1538.05" y1="1409.6" x2="1564.55" y2="1409.6" stroke="#231f20" stroke-width="2.7"/>
<line x1="1632.6" y1="1465.4" x2="1632.6" y2="1498.5" stroke="#231f20" stroke-width="2.7"/>
<line x1="1619.35" y1="1465.4" x2="1645.85" y2="1465.4" stroke="#231f20" stroke-width="2.7"/>
<line x1="1619.35" y1="1498.5" x2="1645.85" y2="1498.5" stroke="#231f20" stroke-width="2.7"/>
<circle cx="1560" cy="1245.6" r="4.3" fill="#fff" stroke="#231f20" stroke-width="2.7"/>
<circle cx="1542.4" cy="1253.3" r="4.3" fill="#fff" stroke="#231f20" stroke-width="2.7"/>
<circle cx="1551.3" cy="1285.9" r="4.3" fill="#fff" stroke="#231f20" stroke-width="2.7"/>
<circle cx="1551.3" cy="1335.5" r="4.3" fill="#fff" stroke="#231f20" stroke-width="2.7"/>
<circle cx="1551.3" cy="1407.9" r="4.3" fill="#fff" stroke="#231f20" stroke-width="2.7"/>
<circle cx="1551.3" cy="1441" r="4.3" fill="#fff" stroke="#231f20" stroke-width="2.7"/>
<circle cx="1632.6" cy="1453.2" r="4.3" fill="#fff" stroke="#231f20" stroke-width="2.7"/>
<circle cx="1625.1" cy="1487.6" r="4.3" fill="#fff" stroke="#231f20" stroke-width="2.7"/>
<circle cx="1655.6" cy="1488.8" r="4.3" fill="#fff" stroke="#231f20" stroke-width="2.7"/>
<circle cx="1640.2" cy="1490.4" r="4.3" fill="#fff" stroke="#231f20" stroke-width="2.7"/>
<circle cx="1609.8" cy="1493.1" r="4.3" fill="#fff" stroke="#231f20" stroke-width="2.7"/>
<path d="M1551.3 1228.8V1211.7H1632.6V1436.8" fill="none" stroke="#231f20" stroke-width="2.6" stroke-linejoin="miter"/>
<text x="1591.2" y="1206.92" font-size="29.5" font-family="'DejaVu Sans', sans-serif" font-weight="bold" text-anchor="middle" letter-spacing="2.6" fill="#231f20">**</text>
<text transform="translate(1589 1151.6) scale(0.93 1)" font-size="29.3" text-anchor="middle" fill="#231f20">Th1</text>
<rect x="1768.9" y="1352" width="52.7" height="159.1" fill="#30b44a" stroke="#231f20" stroke-width="2.8"/>
<rect x="1850.1" y="1306.7" width="52.8" height="204.4" fill="#d1d3d4" stroke="#231f20" stroke-width="2.8"/>
<line x1="1741.3" y1="1224.7" x2="1741.3" y2="1512.4" stroke="#231f20" stroke-width="2.6"/>
<line x1="1730.1" y1="1511.1" x2="1741.3" y2="1511.1" stroke="#231f20" stroke-width="2.6"/>
<text x="1726.2" y="1519.29" font-size="24" text-anchor="end" fill="#231f20">0</text>
<line x1="1730.1" y1="1454.08" x2="1741.3" y2="1454.08" stroke="#231f20" stroke-width="2.6"/>
<text x="1726.2" y="1462.27" font-size="24" text-anchor="end" fill="#231f20">5</text>
<line x1="1730.1" y1="1397.06" x2="1741.3" y2="1397.06" stroke="#231f20" stroke-width="2.6"/>
<text x="1726.2" y="1405.25" font-size="24" text-anchor="end" fill="#231f20">10</text>
<line x1="1730.1" y1="1340.04" x2="1741.3" y2="1340.04" stroke="#231f20" stroke-width="2.6"/>
<text x="1726.2" y="1348.23" font-size="24" text-anchor="end" fill="#231f20">15</text>
<line x1="1730.1" y1="1283.02" x2="1741.3" y2="1283.02" stroke="#231f20" stroke-width="2.6"/>
<text x="1726.2" y="1291.21" font-size="24" text-anchor="end" fill="#231f20">20</text>
<line x1="1730.1" y1="1226" x2="1741.3" y2="1226" stroke="#231f20" stroke-width="2.6"/>
<text x="1726.2" y="1234.19" font-size="24" text-anchor="end" fill="#231f20">25</text>
<line x1="1730.1" y1="1511.1" x2="1931.6" y2="1511.1" stroke="#231f20" stroke-width="2.6"/>
<line x1="1794.6" y1="1511.1" x2="1794.6" y2="1523.4" stroke="#231f20" stroke-width="2.6"/>
<line x1="1876.3" y1="1511.1" x2="1876.3" y2="1523.4" stroke="#231f20" stroke-width="2.6"/>
<line x1="1795.3" y1="1306.1" x2="1795.3" y2="1396.5" stroke="#231f20" stroke-width="2.7"/>
<line x1="1782.05" y1="1306.1" x2="1808.55" y2="1306.1" stroke="#231f20" stroke-width="2.7"/>
<line x1="1782.05" y1="1396.5" x2="1808.55" y2="1396.5" stroke="#231f20" stroke-width="2.7"/>
<line x1="1876.6" y1="1270.4" x2="1876.6" y2="1342.2" stroke="#231f20" stroke-width="2.7"/>
<line x1="1863.35" y1="1270.4" x2="1889.85" y2="1270.4" stroke="#231f20" stroke-width="2.7"/>
<line x1="1863.35" y1="1342.2" x2="1889.85" y2="1342.2" stroke="#231f20" stroke-width="2.7"/>
<circle cx="1795.3" cy="1277.6" r="4.3" fill="#fff" stroke="#231f20" stroke-width="2.7"/>
<circle cx="1786.6" cy="1338.3" r="4.3" fill="#fff" stroke="#231f20" stroke-width="2.7"/>
<circle cx="1803.9" cy="1345" r="4.3" fill="#fff" stroke="#231f20" stroke-width="2.7"/>
<circle cx="1786.6" cy="1352.1" r="4.3" fill="#fff" stroke="#231f20" stroke-width="2.7"/>
<circle cx="1795.3" cy="1389.5" r="4.3" fill="#fff" stroke="#231f20" stroke-width="2.7"/>
<circle cx="1795.3" cy="1406.8" r="4.3" fill="#fff" stroke="#231f20" stroke-width="2.7"/>
<circle cx="1876.6" cy="1267.6" r="4.3" fill="#fff" stroke="#231f20" stroke-width="2.7"/>
<circle cx="1876.6" cy="1277.6" r="4.3" fill="#fff" stroke="#231f20" stroke-width="2.7"/>
<circle cx="1876.6" cy="1302.8" r="4.3" fill="#fff" stroke="#231f20" stroke-width="2.7"/>
<circle cx="1876.6" cy="1332.8" r="4.3" fill="#fff" stroke="#231f20" stroke-width="2.7"/>
<circle cx="1876.6" cy="1351.8" r="4.3" fill="#fff" stroke="#231f20" stroke-width="2.7"/>
<text transform="translate(1828.8 1151.6) scale(0.93 1)" font-size="29.3" text-anchor="middle" fill="#231f20">Treg</text>
<text transform="translate(929.5 1578.2) scale(0.93 1)" font-size="29.3" text-anchor="start" fill="#00a651">LEC</text>
<text transform="translate(982.9 1569.6) scale(0.93 1)" font-size="17" text-anchor="start" fill="#00a651">WT</text>
<text transform="translate(1019.5 1578.2) scale(0.93 1)" font-size="29.3" text-anchor="start" fill="#58595b">LEC</text>
<path d="M1075.2 1569.2L1081.3 1558L1087.4 1569.2Z" fill="none" stroke="#6d6e71" stroke-width="0.8" stroke-linejoin="miter"/>
<text transform="translate(1089.1 1569.4) scale(0.93 1)" font-size="17" text-anchor="start" fill="#58595b">Ch25h</text>
<text transform="translate(15.3 1627.2) scale(0.93 1)" font-size="50" text-anchor="start" fill="#231f20" font-weight="bold">F</text>
<line x1="151.1" y1="1845.4" x2="151.1" y2="1884.6" stroke="#a7a9ac" stroke-width="2.4"/>
<line x1="148.1" y1="1846.6" x2="154.1" y2="1846.6" stroke="#a7a9ac" stroke-width="2.6"/>
<line x1="148.1" y1="1883.4" x2="154.1" y2="1883.4" stroke="#a7a9ac" stroke-width="2.6"/>
<line x1="183.1" y1="1887" x2="183.1" y2="1909.3" stroke="#a7a9ac" stroke-width="2.4"/>
<line x1="180.1" y1="1888.2" x2="186.1" y2="1888.2" stroke="#a7a9ac" stroke-width="2.6"/>
<line x1="180.1" y1="1908.1" x2="186.1" y2="1908.1" stroke="#a7a9ac" stroke-width="2.6"/>
<line x1="215.4" y1="1899.9" x2="215.4" y2="1920" stroke="#a7a9ac" stroke-width="2.4"/>
<line x1="212.4" y1="1901.1" x2="218.4" y2="1901.1" stroke="#a7a9ac" stroke-width="2.6"/>
<line x1="212.4" y1="1918.8" x2="218.4" y2="1918.8" stroke="#a7a9ac" stroke-width="2.6"/>
<line x1="247.4" y1="1900.3" x2="247.4" y2="1928.3" stroke="#a7a9ac" stroke-width="2.4"/>
<line x1="244.4" y1="1901.5" x2="250.4" y2="1901.5" stroke="#a7a9ac" stroke-width="2.6"/>
<line x1="244.4" y1="1927.1" x2="250.4" y2="1927.1" stroke="#a7a9ac" stroke-width="2.6"/>
<line x1="279.9" y1="1884" x2="279.9" y2="1915.3" stroke="#a7a9ac" stroke-width="2.4"/>
<line x1="276.9" y1="1885.2" x2="282.9" y2="1885.2" stroke="#a7a9ac" stroke-width="2.6"/>
<line x1="276.9" y1="1914.1" x2="282.9" y2="1914.1" stroke="#a7a9ac" stroke-width="2.6"/>
<line x1="311.9" y1="1853.2" x2="311.9" y2="1892.8" stroke="#a7a9ac" stroke-width="2.4"/>
<line x1="308.9" y1="1854.4" x2="314.9" y2="1854.4" stroke="#a7a9ac" stroke-width="2.6"/>
<line x1="308.9" y1="1891.6" x2="314.9" y2="1891.6" stroke="#a7a9ac" stroke-width="2.6"/>
<line x1="344.1" y1="1814.9" x2="344.1" y2="1868.7" stroke="#a7a9ac" stroke-width="2.4"/>
<line x1="341.1" y1="1816.1" x2="347.1" y2="1816.1" stroke="#a7a9ac" stroke-width="2.6"/>
<line x1="341.1" y1="1867.5" x2="347.1" y2="1867.5" stroke="#a7a9ac" stroke-width="2.6"/>
<line x1="376.6" y1="1729" x2="376.6" y2="1817.8" stroke="#a7a9ac" stroke-width="2.4"/>
<line x1="373.6" y1="1730.2" x2="379.6" y2="1730.2" stroke="#a7a9ac" stroke-width="2.6"/>
<line x1="373.6" y1="1816.6" x2="379.6" y2="1816.6" stroke="#a7a9ac" stroke-width="2.6"/>
<path d="M86.6 1970.8L151.1 1865L183.1 1898.1L215.4 1909.9L247.4 1914.4L279.9 1899.9L311.9 1873L344.1 1841.8L376.6 1773.5" fill="none" stroke="#a7a9ac" stroke-width="2.6" stroke-linejoin="round"/>
<circle cx="86.6" cy="1970.8" r="4.4" fill="#a7a9ac"/>
<circle cx="151.1" cy="1865" r="4.4" fill="#a7a9ac"/>
<circle cx="183.1" cy="1898.1" r="4.4" fill="#a7a9ac"/>
<circle cx="215.4" cy="1909.9" r="4.4" fill="#a7a9ac"/>
<circle cx="247.4" cy="1914.4" r="4.4" fill="#a7a9ac"/>
<circle cx="279.9" cy="1899.9" r="4.4" fill="#a7a9ac"/>
<circle cx="311.9" cy="1873" r="4.4" fill="#a7a9ac"/>
<circle cx="344.1" cy="1841.8" r="4.4" fill="#a7a9ac"/>
<circle cx="376.6" cy="1773.5" r="4.4" fill="#a7a9ac"/>
<line x1="151.1" y1="1888" x2="151.1" y2="1920.9" stroke="#2fb44a" stroke-width="2.4"/>
<line x1="148.1" y1="1889.2" x2="154.1" y2="1889.2" stroke="#2fb44a" stroke-width="2.6"/>
<line x1="148.1" y1="1919.7" x2="154.1" y2="1919.7" stroke="#2fb44a" stroke-width="2.6"/>
<line x1="183.1" y1="1923.8" x2="183.1" y2="1946.6" stroke="#2fb44a" stroke-width="2.4"/>
<line x1="180.1" y1="1925" x2="186.1" y2="1925" stroke="#2fb44a" stroke-width="2.6"/>
<line x1="180.1" y1="1945.4" x2="186.1" y2="1945.4" stroke="#2fb44a" stroke-width="2.6"/>
<line x1="215.4" y1="1932.8" x2="215.4" y2="1954" stroke="#2fb44a" stroke-width="2.4"/>
<line x1="212.4" y1="1934" x2="218.4" y2="1934" stroke="#2fb44a" stroke-width="2.6"/>
<line x1="212.4" y1="1952.8" x2="218.4" y2="1952.8" stroke="#2fb44a" stroke-width="2.6"/>
<line x1="247.4" y1="1947.8" x2="247.4" y2="1971.9" stroke="#2fb44a" stroke-width="2.4"/>
<line x1="244.4" y1="1949" x2="250.4" y2="1949" stroke="#2fb44a" stroke-width="2.6"/>
<line x1="244.4" y1="1970.7" x2="250.4" y2="1970.7" stroke="#2fb44a" stroke-width="2.6"/>
<line x1="279.9" y1="1935" x2="279.9" y2="1960.7" stroke="#2fb44a" stroke-width="2.4"/>
<line x1="276.9" y1="1936.2" x2="282.9" y2="1936.2" stroke="#2fb44a" stroke-width="2.6"/>
<line x1="276.9" y1="1959.5" x2="282.9" y2="1959.5" stroke="#2fb44a" stroke-width="2.6"/>
<line x1="311.9" y1="1923.1" x2="311.9" y2="1951.8" stroke="#2fb44a" stroke-width="2.4"/>
<line x1="308.9" y1="1924.3" x2="314.9" y2="1924.3" stroke="#2fb44a" stroke-width="2.6"/>
<line x1="308.9" y1="1950.6" x2="314.9" y2="1950.6" stroke="#2fb44a" stroke-width="2.6"/>
<line x1="344.1" y1="1898.1" x2="344.1" y2="1936.1" stroke="#2fb44a" stroke-width="2.4"/>
<line x1="341.1" y1="1899.3" x2="347.1" y2="1899.3" stroke="#2fb44a" stroke-width="2.6"/>
<line x1="341.1" y1="1934.9" x2="347.1" y2="1934.9" stroke="#2fb44a" stroke-width="2.6"/>
<line x1="376.6" y1="1872.2" x2="376.6" y2="1919.8" stroke="#2fb44a" stroke-width="2.4"/>
<line x1="373.6" y1="1873.4" x2="379.6" y2="1873.4" stroke="#2fb44a" stroke-width="2.6"/>
<line x1="373.6" y1="1918.6" x2="379.6" y2="1918.6" stroke="#2fb44a" stroke-width="2.6"/>
<path d="M86.6 1981.8L151.1 1904.8L183.1 1935L215.4 1943.5L247.4 1959.6L279.9 1948L311.9 1937.7L344.1 1917.1L376.6 1895.8" fill="none" stroke="#2fb44a" stroke-width="2.6" stroke-linejoin="round"/>
<circle cx="86.6" cy="1981.8" r="4.4" fill="#2fb44a"/>
<circle cx="151.1" cy="1904.8" r="4.4" fill="#2fb44a"/>
<circle cx="183.1" cy="1935" r="4.4" fill="#2fb44a"/>
<circle cx="215.4" cy="1943.5" r="4.4" fill="#2fb44a"/>
<circle cx="247.4" cy="1959.6" r="4.4" fill="#2fb44a"/>
<circle cx="279.9" cy="1948" r="4.4" fill="#2fb44a"/>
<circle cx="311.9" cy="1937.7" r="4.4" fill="#2fb44a"/>
<circle cx="344.1" cy="1917.1" r="4.4" fill="#2fb44a"/>
<circle cx="376.6" cy="1895.8" r="4.4" fill="#2fb44a"/>
<line x1="65.6" y1="1687.4" x2="65.6" y2="2022.5" stroke="#231f20" stroke-width="2.6"/>
<line x1="57.8" y1="2021.2" x2="65.6" y2="2021.2" stroke="#231f20" stroke-width="2.6"/>
<text x="50.8" y="2029.39" font-size="24" text-anchor="end" fill="#231f20">0</text>
<line x1="57.8" y1="1938.08" x2="65.6" y2="1938.08" stroke="#231f20" stroke-width="2.6"/>
<text x="50.8" y="1946.27" font-size="24" text-anchor="end" fill="#231f20">2</text>
<line x1="57.8" y1="1854.95" x2="65.6" y2="1854.95" stroke="#231f20" stroke-width="2.6"/>
<text x="50.8" y="1863.14" font-size="24" text-anchor="end" fill="#231f20">4</text>
<line x1="57.8" y1="1771.83" x2="65.6" y2="1771.83" stroke="#231f20" stroke-width="2.6"/>
<text x="50.8" y="1780.02" font-size="24" text-anchor="end" fill="#231f20">6</text>
<line x1="57.8" y1="1688.7" x2="65.6" y2="1688.7" stroke="#231f20" stroke-width="2.6"/>
<text x="50.8" y="1696.89" font-size="24" text-anchor="end" fill="#231f20">8</text>
<line x1="57.8" y1="2021.2" x2="398.5" y2="2021.2" stroke="#231f20" stroke-width="2.6"/>
<line x1="86.6" y1="2021.2" x2="86.6" y2="2029.5" stroke="#231f20" stroke-width="2.6"/>
<text x="86.6" y="2053.7" font-size="24" text-anchor="middle" fill="#231f20">6</text>
<line x1="118.7" y1="2021.2" x2="118.7" y2="2029.5" stroke="#231f20" stroke-width="2.6"/>
<text x="118.7" y="2053.7" font-size="24" text-anchor="middle" fill="#231f20">8</text>
<line x1="151.1" y1="2021.2" x2="151.1" y2="2029.5" stroke="#231f20" stroke-width="2.6"/>
<text x="151.1" y="2053.7" font-size="24" text-anchor="middle" fill="#231f20">10</text>
<line x1="183.1" y1="2021.2" x2="183.1" y2="2029.5" stroke="#231f20" stroke-width="2.6"/>
<text x="183.1" y="2053.7" font-size="24" text-anchor="middle" fill="#231f20">12</text>
<line x1="215.4" y1="2021.2" x2="215.4" y2="2029.5" stroke="#231f20" stroke-width="2.6"/>
<text x="215.4" y="2053.7" font-size="24" text-anchor="middle" fill="#231f20">14</text>
<line x1="247.4" y1="2021.2" x2="247.4" y2="2029.5" stroke="#231f20" stroke-width="2.6"/>
<text x="247.4" y="2053.7" font-size="24" text-anchor="middle" fill="#231f20">16</text>
<line x1="279.9" y1="2021.2" x2="279.9" y2="2029.5" stroke="#231f20" stroke-width="2.6"/>
<text x="279.9" y="2053.7" font-size="24" text-anchor="middle" fill="#231f20">18</text>
<line x1="311.9" y1="2021.2" x2="311.9" y2="2029.5" stroke="#231f20" stroke-width="2.6"/>
<text x="311.9" y="2053.7" font-size="24" text-anchor="middle" fill="#231f20">20</text>
<line x1="344.1" y1="2021.2" x2="344.1" y2="2029.5" stroke="#231f20" stroke-width="2.6"/>
<text x="344.1" y="2053.7" font-size="24" text-anchor="middle" fill="#231f20">22</text>
<line x1="376.6" y1="2021.2" x2="376.6" y2="2029.5" stroke="#231f20" stroke-width="2.6"/>
<text x="376.6" y="2053.7" font-size="24" text-anchor="middle" fill="#231f20">24</text>
<text transform="translate(238.4 2089.2) scale(0.93 1)" font-size="29.3" text-anchor="middle" fill="#231f20">Day</text>
<text transform="translate(23.5 1843.5) rotate(-90) scale(0.89 1)" font-size="29.3" text-anchor="middle" fill="#231f20">Normalized Area</text>
<text transform="translate(76.7 1714.9) scale(0.97 1)" font-size="29.3" text-anchor="start" fill="#00a651">LEC</text>
<text transform="translate(131.9 1706.3) scale(0.93 1)" font-size="17" text-anchor="start" fill="#00a651">WT</text>
<text transform="translate(76.7 1755.8) scale(0.97 1)" font-size="29.3" text-anchor="start" fill="#58595b">LEC</text>
<path d="M132.4 1746.8L138.5 1735.6L144.6 1746.8Z" fill="none" stroke="#6d6e71" stroke-width="0.8" stroke-linejoin="miter"/>
<text transform="translate(146.3 1747) scale(0.93 1)" font-size="17" text-anchor="start" fill="#58595b">Ch25h</text>
<line x1="206.9" y1="1698.1" x2="206.9" y2="1757.8" stroke="#231f20" stroke-width="2.4"/>
<text x="224.5" y="1740.92" font-size="29.5" font-family="'DejaVu Sans', sans-serif" font-weight="bold" text-anchor="middle" letter-spacing="2.6" fill="#231f20">*</text>
<text transform="translate(114.2 1855.9) scale(0.93 1)" font-size="22" text-anchor="middle" fill="#f15a29">OT-1</text>
<line x1="114.6" y1="1867.5" x2="114.6" y2="1894.9" stroke="#f15a29" stroke-width="1.5"/>
<path d="M108.4 1890.9L114.6 1893.1L120.8 1890.9L114.6 1905.9Z" fill="#f15a29"/>
<text transform="translate(466.3 1627.2) scale(0.93 1)" font-size="50" text-anchor="start" fill="#231f20" font-weight="bold">G</text>
<rect x="556.4" y="1843.2" width="52.8" height="184.5" fill="#30b44a" stroke="#231f20" stroke-width="2.8"/>
<rect x="637.7" y="1929" width="52.8" height="98.7" fill="#d1d3d4" stroke="#231f20" stroke-width="2.8"/>
<line x1="528.9" y1="1742.2" x2="528.9" y2="2029" stroke="#231f20" stroke-width="2.6"/>
<line x1="518" y1="2027.7" x2="528.9" y2="2027.7" stroke="#231f20" stroke-width="2.6"/>
<text x="515.2" y="2035.89" font-size="24" text-anchor="end" fill="#231f20">0.0</text>
<line x1="518" y1="1970.86" x2="528.9" y2="1970.86" stroke="#231f20" stroke-width="2.6"/>
<text x="515.2" y="1979.05" font-size="24" text-anchor="end" fill="#231f20">0.5</text>
<line x1="518" y1="1914.02" x2="528.9" y2="1914.02" stroke="#231f20" stroke-width="2.6"/>
<text x="515.2" y="1922.21" font-size="24" text-anchor="end" fill="#231f20">1.0</text>
<line x1="518" y1="1857.18" x2="528.9" y2="1857.18" stroke="#231f20" stroke-width="2.6"/>
<text x="515.2" y="1865.37" font-size="24" text-anchor="end" fill="#231f20">1.5</text>
<line x1="518" y1="1800.34" x2="528.9" y2="1800.34" stroke="#231f20" stroke-width="2.6"/>
<text x="515.2" y="1808.53" font-size="24" text-anchor="end" fill="#231f20">2.0</text>
<line x1="518" y1="1743.5" x2="528.9" y2="1743.5" stroke="#231f20" stroke-width="2.6"/>
<text x="515.2" y="1751.69" font-size="24" text-anchor="end" fill="#231f20">2.5</text>
<line x1="518" y1="2027.7" x2="719.3" y2="2027.7" stroke="#231f20" stroke-width="2.6"/>
<line x1="582.1" y1="2027.7" x2="582.1" y2="2040" stroke="#231f20" stroke-width="2.6"/>
<line x1="663.6" y1="2027.7" x2="663.6" y2="2040" stroke="#231f20" stroke-width="2.6"/>
<line x1="582.6" y1="1787.6" x2="582.6" y2="1896.9" stroke="#231f20" stroke-width="2.7"/>
<line x1="569.35" y1="1787.6" x2="595.85" y2="1787.6" stroke="#231f20" stroke-width="2.7"/>
<line x1="569.35" y1="1896.9" x2="595.85" y2="1896.9" stroke="#231f20" stroke-width="2.7"/>
<line x1="664.3" y1="1858.8" x2="664.3" y2="1997.5" stroke="#231f20" stroke-width="2.7"/>
<line x1="651.05" y1="1858.8" x2="677.55" y2="1858.8" stroke="#231f20" stroke-width="2.7"/>
<line x1="651.05" y1="1997.5" x2="677.55" y2="1997.5" stroke="#231f20" stroke-width="2.7"/>
<circle cx="582.6" cy="1777" r="4.3" fill="#fff" stroke="#231f20" stroke-width="2.7"/>
<circle cx="582.6" cy="1796.6" r="4.3" fill="#fff" stroke="#231f20" stroke-width="2.7"/>
<circle cx="582.6" cy="1851.1" r="4.3" fill="#fff" stroke="#231f20" stroke-width="2.7"/>
<circle cx="574.2" cy="1896.1" r="4.3" fill="#fff" stroke="#231f20" stroke-width="2.7"/>
<circle cx="591.3" cy="1893" r="4.3" fill="#fff" stroke="#231f20" stroke-width="2.7"/>
<circle cx="664.3" cy="1814.7" r="4.3" fill="#fff" stroke="#231f20" stroke-width="2.7"/>
<circle cx="672.6" cy="1932.5" r="4.3" fill="#fff" stroke="#231f20" stroke-width="2.7"/>
<circle cx="655.5" cy="1936.8" r="4.3" fill="#fff" stroke="#231f20" stroke-width="2.7"/>
<circle cx="664.3" cy="1956.8" r="4.3" fill="#fff" stroke="#231f20" stroke-width="2.7"/>
<circle cx="664.3" cy="2001.7" r="4.3" fill="#fff" stroke="#231f20" stroke-width="2.7"/>
<path d="M582.6 1759.7V1743.5H664.3V1797.6" fill="none" stroke="#231f20" stroke-width="2.6" stroke-linejoin="miter"/>
<text transform="translate(628.4 1680) scale(0.93 1)" font-size="29.3" text-anchor="middle" fill="#231f20">OT-1</text>
<text transform="translate(463.5 1879) rotate(-90) scale(0.93 1)" font-size="29.3" text-anchor="middle" fill="#231f20">Number (x10<tspan dy="-8.6" font-size="19.5">3</tspan><tspan dy="8.6">)</tspan></text>
<text transform="translate(627.6 1729.1) scale(0.93 1)" font-size="21.6" text-anchor="middle" fill="#231f20">P = 0.0615</text>
<rect x="798.9" y="1879.9" width="52.9" height="148.1" fill="#30b44a" stroke="#231f20" stroke-width="2.8"/>
<rect x="880" y="1978.8" width="52.8" height="49.2" fill="#d1d3d4" stroke="#231f20" stroke-width="2.8"/>
<line x1="771.6" y1="1742.2" x2="771.6" y2="2029.3" stroke="#231f20" stroke-width="2.6"/>
<line x1="760.4" y1="2028" x2="771.6" y2="2028" stroke="#231f20" stroke-width="2.6"/>
<text x="757.6" y="2036.19" font-size="24" text-anchor="end" fill="#231f20">0.0</text>
<line x1="760.4" y1="1933.17" x2="771.6" y2="1933.17" stroke="#231f20" stroke-width="2.6"/>
<text x="757.6" y="1941.36" font-size="24" text-anchor="end" fill="#231f20">0.5</text>
<line x1="760.4" y1="1838.33" x2="771.6" y2="1838.33" stroke="#231f20" stroke-width="2.6"/>
<text x="757.6" y="1846.53" font-size="24" text-anchor="end" fill="#231f20">1.0</text>
<line x1="760.4" y1="1743.5" x2="771.6" y2="1743.5" stroke="#231f20" stroke-width="2.6"/>
<text x="757.6" y="1751.69" font-size="24" text-anchor="end" fill="#231f20">1.5</text>
<line x1="760.4" y1="2028" x2="961.6" y2="2028" stroke="#231f20" stroke-width="2.6"/>
<line x1="824.9" y1="2028" x2="824.9" y2="2040.3" stroke="#231f20" stroke-width="2.6"/>
<line x1="906.3" y1="2028" x2="906.3" y2="2040.3" stroke="#231f20" stroke-width="2.6"/>
<line x1="825.4" y1="1825.3" x2="825.4" y2="1933.3" stroke="#231f20" stroke-width="2.7"/>
<line x1="812.15" y1="1825.3" x2="838.65" y2="1825.3" stroke="#231f20" stroke-width="2.7"/>
<line x1="812.15" y1="1933.3" x2="838.65" y2="1933.3" stroke="#231f20" stroke-width="2.7"/>
<line x1="906.6" y1="1952.6" x2="906.6" y2="2003.4" stroke="#231f20" stroke-width="2.7"/>
<line x1="893.35" y1="1952.6" x2="919.85" y2="1952.6" stroke="#231f20" stroke-width="2.7"/>
<line x1="893.35" y1="2003.4" x2="919.85" y2="2003.4" stroke="#231f20" stroke-width="2.7"/>
<circle cx="825.4" cy="1824.8" r="4.3" fill="#fff" stroke="#231f20" stroke-width="2.7"/>
<circle cx="825.4" cy="1843.6" r="4.3" fill="#fff" stroke="#231f20" stroke-width="2.7"/>
<circle cx="825.4" cy="1868.1" r="4.3" fill="#fff" stroke="#231f20" stroke-width="2.7"/>
<circle cx="825.4" cy="1900.3" r="4.3" fill="#fff" stroke="#231f20" stroke-width="2.7"/>
<circle cx="825.4" cy="1961.5" r="4.3" fill="#fff" stroke="#231f20" stroke-width="2.7"/>
<circle cx="906.6" cy="1938" r="4.3" fill="#fff" stroke="#231f20" stroke-width="2.7"/>
<circle cx="889.5" cy="1976.2" r="4.3" fill="#fff" stroke="#231f20" stroke-width="2.7"/>
<circle cx="906.6" cy="1984.1" r="4.3" fill="#fff" stroke="#231f20" stroke-width="2.7"/>
<circle cx="923.9" cy="1983.3" r="4.3" fill="#fff" stroke="#231f20" stroke-width="2.7"/>
<circle cx="906.6" cy="2009.3" r="4.3" fill="#fff" stroke="#231f20" stroke-width="2.7"/>
<path d="M825.4 1807.7V1791.3H906.8V1920.7" fill="none" stroke="#231f20" stroke-width="2.6" stroke-linejoin="miter"/>
<text x="865.6" y="1785.92" font-size="29.5" font-family="'DejaVu Sans', sans-serif" font-weight="bold" text-anchor="middle" letter-spacing="2.6" fill="#231f20">**</text>
<text transform="translate(867 1672.1) scale(0.93 1)" font-size="29.3" text-anchor="middle" fill="#231f20">OT-1</text>
<text transform="translate(874.6 1705.7) scale(0.93 1)" font-size="29.3" text-anchor="middle" fill="#231f20">IFN-γ<tspan dy="-9.67" font-size="16.12">+</tspan></text>
<rect x="1045.3" y="1853.6" width="52.5" height="174.6" fill="#30b44a" stroke="#231f20" stroke-width="2.8"/>
<rect x="1126.3" y="1969.3" width="53.2" height="58.9" fill="#d1d3d4" stroke="#231f20" stroke-width="2.8"/>
<line x1="1017.9" y1="1743" x2="1017.9" y2="2029.5" stroke="#231f20" stroke-width="2.6"/>
<line x1="1006.5" y1="2028.2" x2="1017.9" y2="2028.2" stroke="#231f20" stroke-width="2.6"/>
<text x="1003.7" y="2036.39" font-size="24" text-anchor="end" fill="#231f20">0.0</text>
<line x1="1006.5" y1="1957.22" x2="1017.9" y2="1957.22" stroke="#231f20" stroke-width="2.6"/>
<text x="1003.7" y="1965.42" font-size="24" text-anchor="end" fill="#231f20">0.2</text>
<line x1="1006.5" y1="1886.25" x2="1017.9" y2="1886.25" stroke="#231f20" stroke-width="2.6"/>
<text x="1003.7" y="1894.44" font-size="24" text-anchor="end" fill="#231f20">0.4</text>
<line x1="1006.5" y1="1815.28" x2="1017.9" y2="1815.28" stroke="#231f20" stroke-width="2.6"/>
<text x="1003.7" y="1823.47" font-size="24" text-anchor="end" fill="#231f20">0.6</text>
<line x1="1006.5" y1="1744.3" x2="1017.9" y2="1744.3" stroke="#231f20" stroke-width="2.6"/>
<text x="1003.7" y="1752.49" font-size="24" text-anchor="end" fill="#231f20">0.8</text>
<line x1="1006.5" y1="2028.2" x2="1207.7" y2="2028.2" stroke="#231f20" stroke-width="2.6"/>
<line x1="1071.2" y1="2028.2" x2="1071.2" y2="2040.5" stroke="#231f20" stroke-width="2.6"/>
<line x1="1152.6" y1="2028.2" x2="1152.6" y2="2040.5" stroke="#231f20" stroke-width="2.6"/>
<line x1="1071.6" y1="1792.6" x2="1071.6" y2="1912.3" stroke="#231f20" stroke-width="2.7"/>
<line x1="1058.35" y1="1792.6" x2="1084.85" y2="1792.6" stroke="#231f20" stroke-width="2.7"/>
<line x1="1058.35" y1="1912.3" x2="1084.85" y2="1912.3" stroke="#231f20" stroke-width="2.7"/>
<line x1="1152.9" y1="1948.4" x2="1152.9" y2="1988.6" stroke="#231f20" stroke-width="2.7"/>
<line x1="1139.65" y1="1948.4" x2="1166.15" y2="1948.4" stroke="#231f20" stroke-width="2.7"/>
<line x1="1139.65" y1="1988.6" x2="1166.15" y2="1988.6" stroke="#231f20" stroke-width="2.7"/>
<circle cx="1071.6" cy="1792.1" r="4.3" fill="#fff" stroke="#231f20" stroke-width="2.7"/>
<circle cx="1062.9" cy="1820.9" r="4.3" fill="#fff" stroke="#231f20" stroke-width="2.7"/>
<circle cx="1080.5" cy="1820.9" r="4.3" fill="#fff" stroke="#231f20" stroke-width="2.7"/>
<circle cx="1071.6" cy="1894.7" r="4.3" fill="#fff" stroke="#231f20" stroke-width="2.7"/>
<circle cx="1071.6" cy="1935.5" r="4.3" fill="#fff" stroke="#231f20" stroke-width="2.7"/>
<circle cx="1152.9" cy="1948" r="4.3" fill="#fff" stroke="#231f20" stroke-width="2.7"/>
<circle cx="1135.6" cy="1962" r="4.3" fill="#fff" stroke="#231f20" stroke-width="2.7"/>
<circle cx="1170.2" cy="1964.8" r="4.3" fill="#fff" stroke="#231f20" stroke-width="2.7"/>
<circle cx="1152.9" cy="1966.8" r="4.3" fill="#fff" stroke="#231f20" stroke-width="2.7"/>
<circle cx="1152.9" cy="2001.7" r="4.3" fill="#fff" stroke="#231f20" stroke-width="2.7"/>
<path d="M1071.6 1775V1758.6H1152.9V1930.8" fill="none" stroke="#231f20" stroke-width="2.6" stroke-linejoin="miter"/>
<text x="1111.4" y="1754.22" font-size="29.5" font-family="'DejaVu Sans', sans-serif" font-weight="bold" text-anchor="middle" letter-spacing="2.6" fill="#231f20">**</text>
<text transform="translate(1108.6 1672.1) scale(0.93 1)" font-size="29.3" text-anchor="middle" fill="#231f20">OT-1</text>
<text transform="translate(1109.5 1705.7) scale(0.93 1)" font-size="29.3" text-anchor="middle" fill="#231f20">Granzyme-B<tspan dy="-9.67" font-size="16.12">+</tspan></text>
<rect x="1298.4" y="1897.5" width="52.6" height="82.7" fill="#30b44a" stroke="#231f20" stroke-width="2.8"/>
<rect x="1379.7" y="1974.3" width="52.6" height="5.9" fill="#d1d3d4" stroke="#231f20" stroke-width="2.8"/>
<line x1="1270.8" y1="1741.8" x2="1270.8" y2="2029" stroke="#231f20" stroke-width="2.6"/>
<line x1="1259.5" y1="2027.7" x2="1270.8" y2="2027.7" stroke="#231f20" stroke-width="2.6"/>
<text x="1256.7" y="2035.89" font-size="24" text-anchor="end" fill="#231f20">-0.2</text>
<line x1="1259.5" y1="1980.27" x2="1270.8" y2="1980.27" stroke="#231f20" stroke-width="2.6"/>
<text x="1256.7" y="1988.46" font-size="24" text-anchor="end" fill="#231f20">0.0</text>
<line x1="1259.5" y1="1932.83" x2="1270.8" y2="1932.83" stroke="#231f20" stroke-width="2.6"/>
<text x="1256.7" y="1941.03" font-size="24" text-anchor="end" fill="#231f20">0.2</text>
<line x1="1259.5" y1="1885.4" x2="1270.8" y2="1885.4" stroke="#231f20" stroke-width="2.6"/>
<text x="1256.7" y="1893.59" font-size="24" text-anchor="end" fill="#231f20">0.4</text>
<line x1="1259.5" y1="1837.97" x2="1270.8" y2="1837.97" stroke="#231f20" stroke-width="2.6"/>
<text x="1256.7" y="1846.16" font-size="24" text-anchor="end" fill="#231f20">0.6</text>
<line x1="1259.5" y1="1790.53" x2="1270.8" y2="1790.53" stroke="#231f20" stroke-width="2.6"/>
<text x="1256.7" y="1798.73" font-size="24" text-anchor="end" fill="#231f20">0.8</text>
<line x1="1259.5" y1="1743.1" x2="1270.8" y2="1743.1" stroke="#231f20" stroke-width="2.6"/>
<text x="1256.7" y="1751.29" font-size="24" text-anchor="end" fill="#231f20">1.0</text>
<line x1="1259.5" y1="2027.7" x2="1460.7" y2="2027.7" stroke="#231f20" stroke-width="2.6"/>
<line x1="1324.1" y1="2027.7" x2="1324.1" y2="2040" stroke="#231f20" stroke-width="2.6"/>
<line x1="1405.4" y1="2027.7" x2="1405.4" y2="2040" stroke="#231f20" stroke-width="2.6"/>
<line x1="1259.5" y1="1980.2" x2="1460.2" y2="1980.2" stroke="#231f20" stroke-width="2.6"/>
<line x1="1324.4" y1="1824.5" x2="1324.4" y2="1968.7" stroke="#231f20" stroke-width="2.7"/>
<line x1="1311.15" y1="1824.5" x2="1337.65" y2="1824.5" stroke="#231f20" stroke-width="2.7"/>
<line x1="1311.15" y1="1968.7" x2="1337.65" y2="1968.7" stroke="#231f20" stroke-width="2.7"/>
<line x1="1405.9" y1="1965.7" x2="1405.9" y2="1980.2" stroke="#231f20" stroke-width="2.7"/>
<line x1="1392.65" y1="1965.7" x2="1419.15" y2="1965.7" stroke="#231f20" stroke-width="2.7"/>
<line x1="1392.65" y1="1980.2" x2="1419.15" y2="1980.2" stroke="#231f20" stroke-width="2.7"/>
<circle cx="1324.4" cy="1778.7" r="4.3" fill="#fff" stroke="#231f20" stroke-width="2.7"/>
<circle cx="1324.4" cy="1890.7" r="4.3" fill="#fff" stroke="#231f20" stroke-width="2.7"/>
<circle cx="1324.4" cy="1908.3" r="4.3" fill="#fff" stroke="#231f20" stroke-width="2.7"/>
<circle cx="1324.4" cy="1937.5" r="4.3" fill="#fff" stroke="#231f20" stroke-width="2.7"/>
<circle cx="1324.4" cy="1968.2" r="4.3" fill="#fff" stroke="#231f20" stroke-width="2.7"/>
<circle cx="1405.9" cy="1961.1" r="4.3" fill="#fff" stroke="#231f20" stroke-width="2.7"/>
<circle cx="1423" cy="1970.4" r="4.3" fill="#fff" stroke="#231f20" stroke-width="2.7"/>
<circle cx="1405.9" cy="1975.7" r="4.3" fill="#fff" stroke="#231f20" stroke-width="2.7"/>
<circle cx="1388.6" cy="1980.4" r="4.3" fill="#fff" stroke="#231f20" stroke-width="2.7"/>
<circle cx="1423" cy="1980.4" r="4.3" fill="#fff" stroke="#231f20" stroke-width="2.7"/>
<path d="M1324.4 1761.9V1744.8H1405.9V1944.7" fill="none" stroke="#231f20" stroke-width="2.6" stroke-linejoin="miter"/>
<text x="1363.5" y="1740.32" font-size="29.5" font-family="'DejaVu Sans', sans-serif" font-weight="bold" text-anchor="middle" letter-spacing="2.6" fill="#231f20">*</text>
<text transform="translate(1355 1672.1) scale(0.93 1)" font-size="29.3" text-anchor="middle" fill="#231f20">OT-1</text>
<text transform="translate(1368.3 1705.7) scale(0.93 1)" font-size="29.3" text-anchor="middle" fill="#231f20">TNF-a<tspan dy="-9.67" font-size="16.12">+</tspan></text>
<rect x="1544.2" y="1829.8" width="52.6" height="195.4" fill="#30b44a" stroke="#231f20" stroke-width="2.8"/>
<rect x="1625.2" y="1964.7" width="52.9" height="60.5" fill="#d1d3d4" stroke="#231f20" stroke-width="2.8"/>
<line x1="1516.6" y1="1740" x2="1516.6" y2="2026.5" stroke="#231f20" stroke-width="2.6"/>
<line x1="1505.3" y1="2025.2" x2="1516.6" y2="2025.2" stroke="#231f20" stroke-width="2.6"/>
<text x="1502.5" y="2033.39" font-size="24" text-anchor="end" fill="#231f20">0.0</text>
<line x1="1505.3" y1="1954.22" x2="1516.6" y2="1954.22" stroke="#231f20" stroke-width="2.6"/>
<text x="1502.5" y="1962.42" font-size="24" text-anchor="end" fill="#231f20">0.2</text>
<line x1="1505.3" y1="1883.25" x2="1516.6" y2="1883.25" stroke="#231f20" stroke-width="2.6"/>
<text x="1502.5" y="1891.44" font-size="24" text-anchor="end" fill="#231f20">0.4</text>
<line x1="1505.3" y1="1812.28" x2="1516.6" y2="1812.28" stroke="#231f20" stroke-width="2.6"/>
<text x="1502.5" y="1820.47" font-size="24" text-anchor="end" fill="#231f20">0.6</text>
<line x1="1505.3" y1="1741.3" x2="1516.6" y2="1741.3" stroke="#231f20" stroke-width="2.6"/>
<text x="1502.5" y="1749.49" font-size="24" text-anchor="end" fill="#231f20">0.8</text>
<line x1="1505.3" y1="2025.2" x2="1706.6" y2="2025.2" stroke="#231f20" stroke-width="2.6"/>
<line x1="1569.9" y1="2025.2" x2="1569.9" y2="2037.5" stroke="#231f20" stroke-width="2.6"/>
<line x1="1651.2" y1="2025.2" x2="1651.2" y2="2037.5" stroke="#231f20" stroke-width="2.6"/>
<line x1="1570.4" y1="1764.9" x2="1570.4" y2="1892.2" stroke="#231f20" stroke-width="2.7"/>
<line x1="1557.15" y1="1764.9" x2="1583.65" y2="1764.9" stroke="#231f20" stroke-width="2.7"/>
<line x1="1557.15" y1="1892.2" x2="1583.65" y2="1892.2" stroke="#231f20" stroke-width="2.7"/>
<line x1="1651.7" y1="1938.5" x2="1651.7" y2="1989.6" stroke="#231f20" stroke-width="2.7"/>
<line x1="1638.45" y1="1938.5" x2="1664.95" y2="1938.5" stroke="#231f20" stroke-width="2.7"/>
<line x1="1638.45" y1="1989.6" x2="1664.95" y2="1989.6" stroke="#231f20" stroke-width="2.7"/>
<circle cx="1561.5" cy="1771.5" r="4.3" fill="#fff" stroke="#231f20" stroke-width="2.7"/>
<circle cx="1579.1" cy="1775.8" r="4.3" fill="#fff" stroke="#231f20" stroke-width="2.7"/>
<circle cx="1570.4" cy="1811.1" r="4.3" fill="#fff" stroke="#231f20" stroke-width="2.7"/>
<circle cx="1570.4" cy="1863" r="4.3" fill="#fff" stroke="#231f20" stroke-width="2.7"/>
<circle cx="1570.4" cy="1922.1" r="4.3" fill="#fff" stroke="#231f20" stroke-width="2.7"/>
<circle cx="1651.7" cy="1925.7" r="4.3" fill="#fff" stroke="#231f20" stroke-width="2.7"/>
<circle cx="1651.7" cy="1955.6" r="4.3" fill="#fff" stroke="#231f20" stroke-width="2.7"/>
<circle cx="1651.7" cy="1967.8" r="4.3" fill="#fff" stroke="#231f20" stroke-width="2.7"/>
<circle cx="1651.7" cy="1978.2" r="4.3" fill="#fff" stroke="#231f20" stroke-width="2.7"/>
<circle cx="1651.7" cy="1993.3" r="4.3" fill="#fff" stroke="#231f20" stroke-width="2.7"/>
<path d="M1570.4 1761.9V1746.5H1651.7V1909" fill="none" stroke="#231f20" stroke-width="2.6" stroke-linejoin="miter"/>
<text x="1610.3" y="1744.12" font-size="29.5" font-family="'DejaVu Sans', sans-serif" font-weight="bold" text-anchor="middle" letter-spacing="2.6" fill="#231f20">**</text>
<text transform="translate(1598.2 1672.1) scale(0.93 1)" font-size="29.3" text-anchor="middle" fill="#231f20">OT-1</text>
<text transform="translate(1599.5 1705.7) scale(0.93 1)" font-size="29.3" text-anchor="middle" fill="#231f20">IFN-γ<tspan dy="-9.67" font-size="16.12">+</tspan><tspan dy="9.67">Granzyme-B</tspan><tspan dy="-9.67" font-size="16.12">+</tspan></text>
<rect x="1797" y="1896.8" width="52.8" height="73.9" fill="#30b44a" stroke="#231f20" stroke-width="2.8"/>
<rect x="1878.4" y="1965.9" width="52.3" height="4.8" fill="#d1d3d4" stroke="#231f20" stroke-width="2.8"/>
<line x1="1769.4" y1="1742.2" x2="1769.4" y2="2028.7" stroke="#231f20" stroke-width="2.6"/>
<line x1="1758.2" y1="2027.4" x2="1769.4" y2="2027.4" stroke="#231f20" stroke-width="2.6"/>
<text x="1755.4" y="2035.59" font-size="24" text-anchor="end" fill="#231f20">-0.2</text>
<line x1="1758.2" y1="1970.62" x2="1769.4" y2="1970.62" stroke="#231f20" stroke-width="2.6"/>
<text x="1755.4" y="1978.81" font-size="24" text-anchor="end" fill="#231f20">0.0</text>
<line x1="1758.2" y1="1913.84" x2="1769.4" y2="1913.84" stroke="#231f20" stroke-width="2.6"/>
<text x="1755.4" y="1922.03" font-size="24" text-anchor="end" fill="#231f20">0.2</text>
<line x1="1758.2" y1="1857.06" x2="1769.4" y2="1857.06" stroke="#231f20" stroke-width="2.6"/>
<text x="1755.4" y="1865.25" font-size="24" text-anchor="end" fill="#231f20">0.4</text>
<line x1="1758.2" y1="1800.28" x2="1769.4" y2="1800.28" stroke="#231f20" stroke-width="2.6"/>
<text x="1755.4" y="1808.47" font-size="24" text-anchor="end" fill="#231f20">0.6</text>
<line x1="1758.2" y1="1743.5" x2="1769.4" y2="1743.5" stroke="#231f20" stroke-width="2.6"/>
<text x="1755.4" y="1751.69" font-size="24" text-anchor="end" fill="#231f20">0.8</text>
<line x1="1758.2" y1="2027.4" x2="1959.8" y2="2027.4" stroke="#231f20" stroke-width="2.6"/>
<line x1="1823.1" y1="2027.4" x2="1823.1" y2="2039.7" stroke="#231f20" stroke-width="2.6"/>
<line x1="1904.4" y1="2027.4" x2="1904.4" y2="2039.7" stroke="#231f20" stroke-width="2.6"/>
<line x1="1758.2" y1="1970.7" x2="1958.9" y2="1970.7" stroke="#231f20" stroke-width="2.6"/>
<line x1="1823.3" y1="1836.2" x2="1823.3" y2="1955.3" stroke="#231f20" stroke-width="2.7"/>
<line x1="1810.05" y1="1836.2" x2="1836.55" y2="1836.2" stroke="#231f20" stroke-width="2.7"/>
<line x1="1810.05" y1="1955.3" x2="1836.55" y2="1955.3" stroke="#231f20" stroke-width="2.7"/>
<line x1="1904.9" y1="1958.1" x2="1904.9" y2="1971.5" stroke="#231f20" stroke-width="2.7"/>
<line x1="1891.65" y1="1958.1" x2="1918.15" y2="1958.1" stroke="#231f20" stroke-width="2.7"/>
<line x1="1891.65" y1="1971.5" x2="1918.15" y2="1971.5" stroke="#231f20" stroke-width="2.7"/>
<circle cx="1823.3" cy="1802.5" r="4.3" fill="#fff" stroke="#231f20" stroke-width="2.7"/>
<circle cx="1823.3" cy="1886.5" r="4.3" fill="#fff" stroke="#231f20" stroke-width="2.7"/>
<circle cx="1823.3" cy="1904.5" r="4.3" fill="#fff" stroke="#231f20" stroke-width="2.7"/>
<circle cx="1823.3" cy="1924.9" r="4.3" fill="#fff" stroke="#231f20" stroke-width="2.7"/>
<circle cx="1823.3" cy="1962.3" r="4.3" fill="#fff" stroke="#231f20" stroke-width="2.7"/>
<circle cx="1881.8" cy="1954.8" r="4.3" fill="#fff" stroke="#231f20" stroke-width="2.7"/>
<circle cx="1896.9" cy="1962.6" r="4.3" fill="#fff" stroke="#231f20" stroke-width="2.7"/>
<circle cx="1912.5" cy="1968.7" r="4.3" fill="#fff" stroke="#231f20" stroke-width="2.7"/>
<circle cx="1927.6" cy="1967.3" r="4.3" fill="#fff" stroke="#231f20" stroke-width="2.7"/>
<circle cx="1881.8" cy="1971" r="4.3" fill="#fff" stroke="#231f20" stroke-width="2.7"/>
<path d="M1823.3 1785.4V1768.6H1904.6V1938" fill="none" stroke="#231f20" stroke-width="2.6" stroke-linejoin="miter"/>
<text x="1862.3" y="1764.62" font-size="29.5" font-family="'DejaVu Sans', sans-serif" font-weight="bold" text-anchor="middle" letter-spacing="2.6" fill="#231f20">*</text>
<text transform="translate(1852.5 1672.1) scale(0.93 1)" font-size="29.3" text-anchor="middle" fill="#231f20">OT-1</text>
<text transform="translate(1853.8 1705.7) scale(0.93 1)" font-size="29.3" text-anchor="middle" fill="#231f20">IFN-γ<tspan dy="-9.67" font-size="16.12">+</tspan><tspan dy="9.67">TNF-a</tspan><tspan dy="-9.67" font-size="16.12">+</tspan></text>
<text transform="translate(1143.3 2089.2) scale(0.93 1)" font-size="29.3" text-anchor="start" fill="#00a651">LEC</text>
<text transform="translate(1196.7 2080.6) scale(0.93 1)" font-size="17" text-anchor="start" fill="#00a651">WT</text>
<text transform="translate(1233.3 2089.2) scale(0.93 1)" font-size="29.3" text-anchor="start" fill="#58595b">LEC</text>
<path d="M1289 2080.2L1295.1 2069L1301.2 2080.2Z" fill="none" stroke="#6d6e71" stroke-width="0.8" stroke-linejoin="miter"/>
<text transform="translate(1302.9 2080.4) scale(0.93 1)" font-size="17" text-anchor="start" fill="#58595b">Ch25h</text>
</svg>
</body></html>
